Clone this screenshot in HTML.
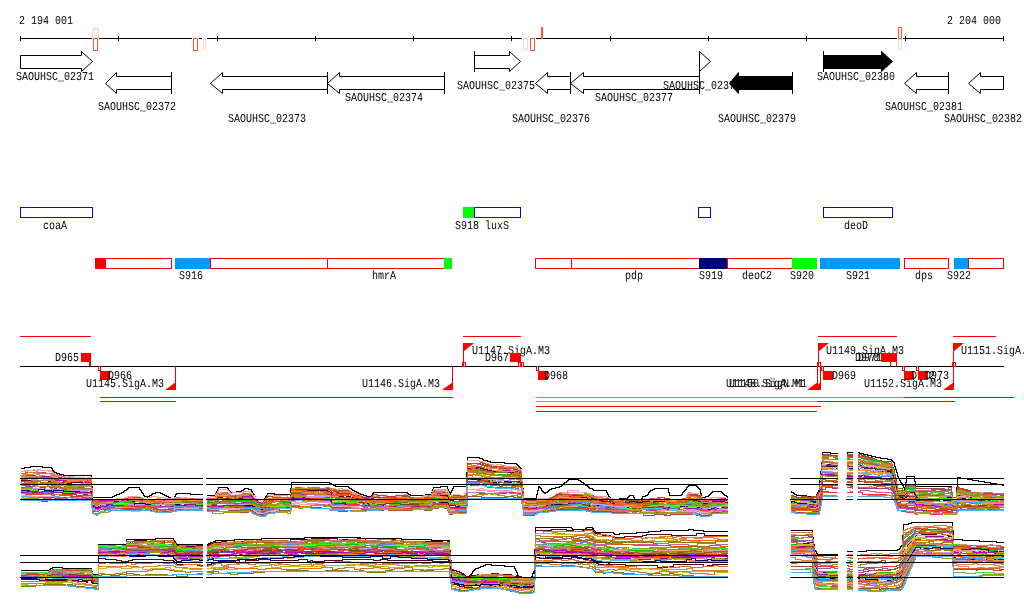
<!DOCTYPE html>
<html><head><meta charset="utf-8"><style>
html,body{margin:0;padding:0;background:#fff;}
svg{display:block;will-change:transform;}
text{font-family:"Liberation Mono",monospace;font-size:12px;text-rendering:geometricPrecision;}
</style></head><body>
<svg width="1024" height="611" viewBox="0 0 1024 611">
<rect width="1024" height="611" fill="#fff"/>
<rect x="20" y="38" width="984" height="1" fill="#000"/>
<rect x="20" y="36" width="1" height="5" fill="#000"/>
<rect x="118" y="36" width="1" height="5" fill="#000"/>
<rect x="217" y="36" width="1" height="5" fill="#000"/>
<rect x="315" y="36" width="1" height="5" fill="#000"/>
<rect x="413" y="36" width="1" height="5" fill="#000"/>
<rect x="511" y="36" width="1" height="5" fill="#000"/>
<rect x="610" y="36" width="1" height="5" fill="#000"/>
<rect x="708" y="36" width="1" height="5" fill="#000"/>
<rect x="806" y="36" width="1" height="5" fill="#000"/>
<rect x="905" y="36" width="1" height="5" fill="#000"/>
<rect x="1003" y="36" width="1" height="5" fill="#000"/>
<text x="19" y="24" textLength="54" lengthAdjust="spacingAndGlyphs" fill="#000">2 194 001</text>
<text x="947" y="24" textLength="54" lengthAdjust="spacingAndGlyphs" fill="#000">2 204 000</text>
<rect x="92" y="38" width="7" height="1" fill="#fff"/>
<rect x="93.5" y="27.5" width="4" height="2" fill="none" stroke="#ffd4c4"/>
<rect x="92.5" y="29.5" width="6" height="9" fill="none" stroke="#ffd4c4"/>
<rect x="92" y="38" width="7" height="1" fill="#fff"/>
<rect x="93.5" y="38.5" width="4" height="12" fill="none" stroke="#ff5533"/>
<rect x="192" y="38" width="7" height="1" fill="#fff"/>
<rect x="193.5" y="38.5" width="4" height="12" fill="none" stroke="#ff5533"/>
<rect x="202" y="38" width="5" height="1" fill="#fff"/>
<rect x="203.5" y="38.5" width="2" height="10" fill="none" stroke="#ffd4c4"/>
<rect x="522" y="38" width="7" height="1" fill="#fff"/>
<rect x="523.5" y="38.5" width="4" height="11" fill="none" stroke="#ffd4c4"/>
<rect x="529" y="38" width="7" height="1" fill="#fff"/>
<rect x="530.5" y="38.5" width="4" height="12" fill="none" stroke="#ff5533"/>
<rect x="541" y="27" width="2" height="12" fill="#ff5533"/>
<rect x="897" y="38" width="6" height="1" fill="#fff"/>
<rect x="898.5" y="38.5" width="3" height="11" fill="none" stroke="#ffd4c4"/>
<rect x="897" y="38" width="6" height="1" fill="#fff"/>
<rect x="898.5" y="27.5" width="3" height="11" fill="none" stroke="#ff5533"/>
<polygon points="20.5,55.5 81.5,55.5 81.5,51.5 92.5,61.5 81.5,71.5 81.5,68.5 20.5,68.5" fill="#fff" stroke="#000"/>
<text x="16" y="80" textLength="78" lengthAdjust="spacingAndGlyphs" fill="#000">SAOUHSC_02371</text>
<polygon points="171.5,76.5 116.5,76.5 116.5,72.5 105.5,83.5 116.5,93.5 116.5,89.5 171.5,89.5" fill="#fff" stroke="#000"/>
<rect x="171" y="72" width="1" height="22" fill="#000"/>
<text x="98" y="110" textLength="78" lengthAdjust="spacingAndGlyphs" fill="#000">SAOUHSC_02372</text>
<polygon points="327.5,76.5 222.5,76.5 222.5,72.5 210.5,83.5 222.5,93.5 222.5,89.5 327.5,89.5" fill="#fff" stroke="#000"/>
<rect x="327" y="72" width="1" height="22" fill="#000"/>
<text x="228" y="122" textLength="78" lengthAdjust="spacingAndGlyphs" fill="#000">SAOUHSC_02373</text>
<polygon points="444.5,76.5 339.5,76.5 339.5,72.5 327.5,83.5 339.5,93.5 339.5,89.5 444.5,89.5" fill="#fff" stroke="#000"/>
<rect x="444" y="72" width="1" height="22" fill="#000"/>
<text x="345" y="101" textLength="78" lengthAdjust="spacingAndGlyphs" fill="#000">SAOUHSC_02374</text>
<polygon points="474.5,55.5 509.5,55.5 509.5,51.5 520.5,61.5 509.5,71.5 509.5,68.5 474.5,68.5" fill="#fff" stroke="#000"/>
<rect x="474" y="51" width="1" height="21" fill="#000"/>
<text x="457" y="89" textLength="78" lengthAdjust="spacingAndGlyphs" fill="#000">SAOUHSC_02375</text>
<polygon points="570.5,76.5 547.5,76.5 547.5,72.5 535.5,83.5 547.5,93.5 547.5,89.5 570.5,89.5" fill="#fff" stroke="#000"/>
<rect x="570" y="72" width="1" height="22" fill="#000"/>
<text x="512" y="122" textLength="78" lengthAdjust="spacingAndGlyphs" fill="#000">SAOUHSC_02376</text>
<polygon points="699.5,76.5 583.5,76.5 583.5,72.5 570.5,83.5 583.5,93.5 583.5,89.5 699.5,89.5" fill="#fff" stroke="#000"/>
<rect x="699" y="72" width="1" height="22" fill="#000"/>
<text x="595" y="101" textLength="78" lengthAdjust="spacingAndGlyphs" fill="#000">SAOUHSC_02377</text>
<polygon points="699.5,51.5 710.5,61.5 699.5,71.5" fill="#fff" stroke="#000"/>
<rect x="699" y="51" width="1" height="21" fill="#000"/>
<text x="663" y="89" textLength="78" lengthAdjust="spacingAndGlyphs" fill="#000">SAOUHSC_02378</text>
<polygon points="792.5,76.5 738.5,76.5 738.5,72.5 729.5,83.5 738.5,93.5 738.5,89.5 792.5,89.5" fill="#000" stroke="#000"/>
<rect x="792" y="72" width="1" height="22" fill="#000"/>
<text x="718" y="122" textLength="78" lengthAdjust="spacingAndGlyphs" fill="#000">SAOUHSC_02379</text>
<polygon points="823.5,55.5 881.5,55.5 881.5,51.5 892.5,61.5 881.5,71.5 881.5,68.5 823.5,68.5" fill="#000" stroke="#000"/>
<rect x="823" y="51" width="1" height="21" fill="#000"/>
<text x="817" y="80" textLength="78" lengthAdjust="spacingAndGlyphs" fill="#000">SAOUHSC_02380</text>
<polygon points="948.5,76.5 916.5,76.5 916.5,72.5 904.5,83.5 916.5,93.5 916.5,89.5 948.5,89.5" fill="#fff" stroke="#000"/>
<rect x="948" y="72" width="1" height="22" fill="#000"/>
<text x="885" y="110" textLength="78" lengthAdjust="spacingAndGlyphs" fill="#000">SAOUHSC_02381</text>
<polygon points="1003.5,76.5 980.5,76.5 980.5,72.5 968.5,83.5 980.5,93.5 980.5,89.5 1003.5,89.5" fill="#fff" stroke="#000"/>
<text x="944" y="122" textLength="78" lengthAdjust="spacingAndGlyphs" fill="#000">SAOUHSC_02382</text>
<rect x="20.5" y="207.5" width="72" height="10" fill="none" stroke="#0000ff"/>
<text x="43" y="229" textLength="24" lengthAdjust="spacingAndGlyphs" fill="#000">coaA</text>
<rect x="463" y="207" width="12" height="11" fill="#00ff00"/>
<rect x="474.5" y="207.5" width="46" height="10" fill="none" stroke="#0000ff"/>
<text x="455" y="229" textLength="54" lengthAdjust="spacingAndGlyphs" fill="#000">S918 luxS</text>
<rect x="698.5" y="207.5" width="12" height="10" fill="none" stroke="#0000ff"/>
<rect x="823.5" y="207.5" width="69" height="10" fill="none" stroke="#0000ff"/>
<text x="844" y="229" textLength="24" lengthAdjust="spacingAndGlyphs" fill="#000">deoD</text>
<rect x="95" y="258" width="11" height="11" fill="#ff0000"/>
<rect x="95.5" y="258.5" width="76" height="10" fill="none" stroke="#ff0000"/>
<rect x="175" y="258" width="35" height="11" fill="#0099ff"/>
<text x="179" y="279" textLength="24" lengthAdjust="spacingAndGlyphs" fill="#000">S916</text>
<rect x="210.5" y="258.5" width="234" height="10" fill="none" stroke="#ff0000"/>
<rect x="327" y="258" width="1" height="11" fill="#ff0000"/>
<text x="372" y="279" textLength="24" lengthAdjust="spacingAndGlyphs" fill="#000">hmrA</text>
<rect x="444" y="258" width="8" height="11" fill="#00ff00"/>
<rect x="535.5" y="258.5" width="164" height="10" fill="none" stroke="#ff0000"/>
<rect x="571" y="258" width="1" height="11" fill="#ff0000"/>
<text x="625" y="279" textLength="18" lengthAdjust="spacingAndGlyphs" fill="#000">pdp</text>
<rect x="699" y="258" width="28" height="11" fill="#000080"/>
<text x="699" y="279" textLength="24" lengthAdjust="spacingAndGlyphs" fill="#000">S919</text>
<rect x="727.5" y="258.5" width="65" height="10" fill="none" stroke="#ff0000"/>
<text x="742" y="279" textLength="30" lengthAdjust="spacingAndGlyphs" fill="#000">deoC2</text>
<rect x="792" y="258" width="25" height="11" fill="#00ff00"/>
<text x="790" y="279" textLength="24" lengthAdjust="spacingAndGlyphs" fill="#000">S920</text>
<rect x="820" y="258" width="80" height="11" fill="#0099ff"/>
<text x="846" y="279" textLength="24" lengthAdjust="spacingAndGlyphs" fill="#000">S921</text>
<rect x="904.5" y="258.5" width="44" height="10" fill="none" stroke="#ff0000"/>
<text x="915" y="279" textLength="18" lengthAdjust="spacingAndGlyphs" fill="#000">dps</text>
<rect x="954" y="258" width="14" height="11" fill="#0099ff"/>
<text x="947" y="279" textLength="24" lengthAdjust="spacingAndGlyphs" fill="#000">S922</text>
<rect x="968.5" y="258.5" width="35" height="10" fill="none" stroke="#ff0000"/>
<rect x="20" y="366" width="984" height="1" fill="#000"/>
<rect x="20" y="336" width="71" height="1" fill="#ff0000"/>
<rect x="463" y="336" width="58" height="1" fill="#ff0000"/>
<rect x="818" y="336" width="79" height="1" fill="#ff0000"/>
<rect x="953" y="336" width="43" height="1" fill="#ff0000"/>
<rect x="100" y="397" width="353" height="1" fill="#ff0000"/>
<rect x="100" y="401" width="76" height="1" fill="#ff0000"/>
<rect x="536" y="397" width="369" height="1" fill="#00ff00"/>
<rect x="904" y="397" width="110" height="1" fill="#ff0000"/>
<rect x="536" y="401" width="282" height="1" fill="#00ff00"/>
<rect x="817" y="401" width="138" height="1" fill="#ff0000"/>
<rect x="536" y="406" width="285" height="1" fill="#ff0000"/>
<rect x="536" y="411" width="281" height="1" fill="#ff0000"/>
<rect x="81" y="353" width="10" height="9" fill="#ff0000"/>
<rect x="89" y="361" width="2" height="5" fill="#ff0000"/>
<text x="55" y="361" textLength="24" lengthAdjust="spacingAndGlyphs" fill="#000">D965</text>
<rect x="98.5" y="366.5" width="2" height="4" fill="none" stroke="#ff0000"/>
<rect x="100" y="371" width="10" height="9" fill="#ff0000"/>
<text x="108" y="379" textLength="24" lengthAdjust="spacingAndGlyphs" fill="#000">D966</text>
<rect x="175" y="366" width="1" height="24" fill="#ff0000"/>
<polygon points="176,382 176,390 165,390" fill="#ff0000"/>
<text x="86" y="387" textLength="78" lengthAdjust="spacingAndGlyphs" fill="#000">U1145.SigA.M3</text>
<rect x="452" y="366" width="1" height="24" fill="#ff0000"/>
<polygon points="453,382 453,390 442,390" fill="#ff0000"/>
<text x="362" y="387" textLength="78" lengthAdjust="spacingAndGlyphs" fill="#000">U1146.SigA.M3</text>
<rect x="463" y="343" width="1" height="24" fill="#ff0000"/>
<rect x="462.5" y="362.5" width="3" height="4" fill="none" stroke="#ff0000"/>
<polygon points="463,343 474,343 463,352" fill="#ff0000"/>
<text x="472" y="354" textLength="78" lengthAdjust="spacingAndGlyphs" fill="#000">U1147.SigA.M3</text>
<rect x="510" y="353" width="11" height="9" fill="#ff0000"/>
<text x="485" y="361" textLength="24" lengthAdjust="spacingAndGlyphs" fill="#000">D967</text>
<rect x="518.5" y="362.5" width="3" height="4" fill="none" stroke="#ff0000"/>
<rect x="520.5" y="362.5" width="3" height="4" fill="none" stroke="#ff0000"/>
<rect x="536.5" y="366.5" width="2" height="4" fill="none" stroke="#ff0000"/>
<rect x="538" y="371" width="10" height="9" fill="#ff0000"/>
<text x="544" y="379" textLength="24" lengthAdjust="spacingAndGlyphs" fill="#000">D968</text>
<text x="726" y="387" textLength="78" lengthAdjust="spacingAndGlyphs" fill="#000">U1148.SigA.M1</text>
<text x="729" y="387" textLength="78" lengthAdjust="spacingAndGlyphs" fill="#000">U1150.SigN.M1</text>
<rect x="817" y="366" width="1" height="24" fill="#ff0000"/>
<polygon points="818,382 818,390 807,390" fill="#ff0000"/>
<rect x="820" y="366" width="1" height="24" fill="#ff0000"/>
<polygon points="821,382 821,390 810,390" fill="#ff0000"/>
<rect x="818" y="343" width="1" height="24" fill="#ff0000"/>
<rect x="817.5" y="362.5" width="3" height="4" fill="none" stroke="#ff0000"/>
<polygon points="818,343 829,343 818,352" fill="#ff0000"/>
<text x="826" y="354" textLength="78" lengthAdjust="spacingAndGlyphs" fill="#000">U1149.SigA.M3</text>
<rect x="821.5" y="366.5" width="2" height="4" fill="none" stroke="#ff0000"/>
<rect x="823" y="371" width="10" height="9" fill="#ff0000"/>
<text x="832" y="379" textLength="24" lengthAdjust="spacingAndGlyphs" fill="#000">D969</text>
<text x="855" y="361" textLength="24" lengthAdjust="spacingAndGlyphs" fill="#000">D970</text>
<text x="858" y="361" textLength="24" lengthAdjust="spacingAndGlyphs" fill="#000">D971</text>
<rect x="881" y="353" width="16" height="9" fill="#ff0000"/>
<rect x="890" y="361" width="1" height="6" fill="#ff0000"/>
<rect x="896" y="361" width="1" height="6" fill="#ff0000"/>
<rect x="902.5" y="366.5" width="2" height="4" fill="none" stroke="#ff0000"/>
<rect x="904" y="371" width="10" height="9" fill="#ff0000"/>
<text x="911" y="379" textLength="24" lengthAdjust="spacingAndGlyphs" fill="#000">D972</text>
<rect x="916.5" y="366.5" width="2" height="4" fill="none" stroke="#ff0000"/>
<rect x="918" y="371" width="10" height="9" fill="#ff0000"/>
<text x="925" y="379" textLength="24" lengthAdjust="spacingAndGlyphs" fill="#000">D973</text>
<text x="864" y="387" textLength="78" lengthAdjust="spacingAndGlyphs" fill="#000">U1152.SigA.M3</text>
<rect x="953" y="366" width="1" height="24" fill="#ff0000"/>
<polygon points="954,382 954,390 943,390" fill="#ff0000"/>
<rect x="953" y="343" width="1" height="24" fill="#ff0000"/>
<rect x="952.5" y="362.5" width="3" height="4" fill="none" stroke="#ff0000"/>
<polygon points="953,343 964,343 953,352" fill="#ff0000"/>
<text x="961" y="354" textLength="78" lengthAdjust="spacingAndGlyphs" fill="#000">U1151.SigA.M3</text>
<g transform="translate(0.5,0.5)" fill="none" stroke-width="1" shape-rendering="crispEdges">
<path d="M20 468h4v-1h6v-1h12v1h9v1h1v2h1v1h1v1h2v1h3v1h4v1h28v11h1v11h20v-1h2v-1h2v-1h3v-1h2v-1h2v-1h1v-1h2v-1h1v-1h1v-1h11v2h1v1h1v2h1v1h1v2h1v1h3v1h1v-1h1v-1h2v-1h1v-1h3v-1h5v1h2v1h2v1h2v1h2v1h2v1h2v1h1v-1h1v-2h1v-2h1v-1h14v1h12" stroke="#000"/>
<path d="M206 495h9v-2h1v-2h1v-2h1v-2h9v1h1v2h1v1h1v1h6v-1h5v-1h2v-1h1v-1h4v1h3v2h1v2h1v1h1v2h1v2h1v2h8v-2h1v-2h1v-1h1v-2h7v1h16v-6h1v-6h38v1h2v1h2v1h2v1h13v1h1v1h2v1h1v1h2v1h2v1h2v1h2v1h3v1h3v1h5v-1h1v-2h1v-1h34v1h1v1h2v1h15v-1h6v-2h1v-3h1v-2h7v-1h7v3h1v2h1v3h1v-2h1v-2h1v-2h1v-2h13v-14h1v-15h12v1h3v1h1v1h4v1h3v1h14v1h12v1h1v1h1v1h1v1h1v1h1v10h1v10h1v10h13v-4h1v-4h1v-4h1v1h1v1h1v2h1v1h1v1h1v1h1v-1h2v-1h1v-1h1v-1h2v-1h4v-1h4v-1h2v-1h1v-1h1v-1h1v-1h2v-1h1v-1h1v-1h10v1h2v1h1v1h2v1h1v1h1v1h2v1h1v1h1v1h3v1h1v1h13v2h1v2h1v2h1v1h1v1h2v1h7v-1h8v-1h1v-1h1v-1h4v2h1v2h7v-1h1v-2h3v-1h2v-1h1v-2h1v-1h1v-1h2v-1h2v-1h14v4h1v3h12v-1h1v-2h1v-1h1v-1h1v-1h1v-2h1v-1h1v-1h8v1h1v1h1v1h1v1h1v4h1v5h1v-1h3v-1h3v-1h1v-1h1v-1h1v-1h1v-1h9v1h1v1h1v1h1v1h2v1h1v1" stroke="#000"/>
<path d="M20 471h5v-1h8v-1h1v1h3v-1h3v1h11v1h1v1h1v1h1v1h3v1h3v1h2v1h6v-1h5v1h11v1h7v11h1v11h1v-1h1v1h4v-1h18v-1h1v1h1v-1h6v-1h3v-1h12v1h3v1h1v1h5v-2h3v-1h6v1h8v1h9v-1h1v1h7v-1h5v1h15" stroke="#f0a0a0"/>
<path d="M206 497h4v-1h5v-2h1v-1h1v-2h1v-2h9v1h1v1h1v1h1v1h2v-1h11v-1h7v1h1v1h1v2h2v1h1v2h1v1h2v1h6v-1h1v-1h1v-1h1v-2h2v1h1v-2h3v1h14v2h3v-5h1v-4h4v-1h9v1h31v1h3v-1h4v1h6v1h2v1h1v1h1v1h1v-1h1v1h3v1h2v1h2v1h4v1h1v1h5v-1h1v-2h1v-1h3v1h7v1h16v-1h5v-1h3v1h2v1h1v1h13v-2h8v-2h1v-2h1v-2h14v2h1v2h1v3h2v-1h2v-1h3v1h8v-2h2v-16h1v-17h12v1h3v1h2v1h4v1h5v1h3v-1h5v1h4v1h9v1h3v1h1v1h2v1h1v10h1v10h1v10h15v-1h1v-1h9v-1h4v-1h2v-1h1v-1h2v-1h2v-1h8v-2h11v2h8v1h3v1h2v1h1v1h2v1h2v1h5v1h4v1h2v1h4v1h4v-2h13v-1h5v1h16v-1h1v1h4v-1h15v1h6v-1h7v-1h3v-1h1v-2h1v-2h1v-1h3v1h6v1h2v1h1v2h1v2h8v-1h2v-1h14v2h2" stroke="#f0a0a0"/>
<path d="M20 471h4v-1h2v1h1v-1h11v-1h2v1h8v1h3v2h1v1h2v1h2v1h6v1h11v1h14v-1h4v11h1v11h1v1h6v-1h24v-1h3v-1h7v-1h6v1h2v1h1v1h1v1h8v-1h5v1h9v1h7v1h1v-1h3v-1h15v-1h11" stroke="#ffa0b0"/>
<path d="M206 498h9v-1h1v-2h1v-1h1v-2h9v1h1v1h2v1h5v-1h1v1h2v-1h4v-1h9v2h1v1h1v2h1v1h1v2h1v1h8v-1h1v-2h1v-2h1v-1h13v1h10v-5h1v-4h19v1h19v-1h2v1h6v1h9v-1h1v1h2v1h1v1h2v1h2v1h3v1h2v1h3v1h6v1h3v-1h1v-2h1v-1h4v1h7v1h19v-1h3v1h2v1h2v1h5v-1h6v-1h10v-2h1v-2h1v-2h14v2h1v2h1v2h2v-1h2v-1h5v1h4v1h4v-16h1v-16h3v-1h9v1h3v1h3v1h4v1h6v1h2v-1h4v1h7v-1h7v-1h1v1h2v1h1v1h2v10h1v10h1v10h15v-1h5v1h3v-1h3v-1h1v1h2v-1h2v-1h2v-1h1v-1h3v-1h8v-1h18v1h4v1h2v1h1v1h13v1h3v1h3v1h3v1h12v-1h7v1h2v1h5v-1h1v-1h4v1h2v-1h20v-1h1v1h13v-1h3v-1h1v-2h1v-1h1v-1h9v1h3v2h1v2h4v2h5v-1h7v-1h6v1h3v1h1" stroke="#ffa0b0"/>
<path d="M20 473h5v-1h20v1h6v1h1v1h2v1h3v1h4v1h3v1h1v1h5v-1h11v1h6v-1h4v11h1v9h1v1h6v-1h8v1h4v-1h5v1h2v-1h7v-1h10v-1h5v1h2v1h3v1h6v-1h13v1h1v1h9v-1h2v-2h17v2h7v-1h2" stroke="#d04020"/>
<path d="M206 498h9v-2h1v-1h1v-2h10v1h1v1h1v1h9v-1h5v-1h5v1h3v1h1v1h1v2h1v1h1v1h1v1h7v-1h1v-1h1v-1h1v-2h1v-1h5v1h18v-5h1v-4h4v-1h5v1h7v-1h11v1h6v1h7v1h2v1h7v1h2v-2h6v1h1v1h2v1h1v1h3v1h4v1h3v1h9v-1h1v-1h1v-1h4v1h9v1h9v-1h12v1h1v2h2v1h16v-2h5v-2h1v-2h1v-2h10v1h4v2h1v1h1v2h2v-1h2v-1h7v1h6v-17h1v-16h13v-1h2v1h3v1h3v1h1v1h14v1h4v1h9v1h2v1h1v2h1v1h1v9h1v10h1v10h7v-1h8v-1h1v-1h10v-1h3v-1h2v-1h1v-1h1v-1h2v-1h3v1h24v1h3v1h2v1h2v1h3v1h14v1h16v1h3v-1h2v1h4v1h7v-1h6v-1h3v-2h7v-1h7v1h5v1h13v-1h2v1h1v-1h1v-1h1v-2h1v-1h9v1h2v1h1v2h1v1h7v1h2v-1h11v-1h4v1h2" stroke="#d04020"/>
<path d="M20 473h7v-1h9v-1h1v1h4v1h10v1h2v1h1v-1h3v1h4v1h3v1h6v1h20v2h1v10h1v11h3v1h3v-1h3v-1h10v-1h4v1h6v-1h3v-1h4v-1h11v1h2v1h2v1h9v-1h11v1h9v-1h2v-1h2v-1h4v2h8v1h12v-1h2" stroke="#d060a0"/>
<path d="M206 498h5v1h4v-1h1v-1h1v-2h1v-1h4v-2h5v1h1v1h1v1h12v-1h2v-1h7v2h1v2h1v1h1v1h1v2h1v1h1v1h8v-1h1v-1h1v-2h1v-1h15v-1h4v1h4v-4h1v-5h2v-1h20v-1h6v1h10v1h2v1h5v1h5v1h7v1h1v1h2v1h1v1h3v1h2v-1h1v1h2v1h5v1h6v-1h1v-1h1v-1h6v2h12v-1h15v1h2v-1h1v1h16v-1h6v-2h1v-1h1v-2h9v1h5v2h1v2h1v1h3v-1h14v-17h1v-16h4v1h6v-1h4v1h3v1h2v-1h2v1h4v1h9v1h4v-1h5v1h7v1h1v1h1v1h2v10h1v10h1v10h2v-1h5v1h7v-1h9v-1h4v-1h3v-1h2v-1h2v-1h4v-1h27v1h2v1h2v-1h1v1h3v1h6v1h6v1h4v1h17v-1h5v1h8v-1h7v-1h11v1h5v1h4v1h15v-1h1v-1h1v-1h1v-1h1v-1h11v1h1v2h1v1h11v-1h6v1h9v1" stroke="#d060a0"/>
<path d="M20 475h3v-1h3v-2h10v1h15v1h1v1h2v1h3v2h4v1h30v10h1v11h3v1h1v-1h1v-1h17v1h9v-1h4v-1h7v1h6v1h2v1h4v-1h6v-1h9v1h9v1h3v-1h2v-1h3v1h15v-1h9v1" stroke="#a0a000"/>
<path d="M206 500h8v-1h1v-2h1v-1h1v-1h1v-2h9v1h1v2h2v1h5v-1h4v-1h4v-1h8v1h1v2h1v1h1v1h1v1h1v1h2v1h3v1h3v-1h1v-2h1v-1h9v-1h9v1h6v-6h1v-5h16v-1h4v1h6v1h8v-2h4v1h2v1h4v1h3v1h3v1h2v-1h5v1h1v1h2v1h2v1h3v1h3v1h3v1h4v1h5v-1h2v-1h7v1h17v-1h10v1h1v-1h2v1h17v-2h1v-1h3v-1h1v-2h1v-2h2v1h10v1h2v2h1v1h1v2h3v-1h14v-16h1v-17h13v1h1v1h3v1h4v1h1v-1h1v1h26v1h1v1h1v1h2v1h1v10h1v11h1v10h6v1h8v-1h4v-2h5v-1h4v-1h2v-1h2v-1h2v-1h3v-1h6v1h10v-1h9v-1h2v1h3v1h2v1h2v1h3v2h7v-1h4v1h4v1h58v1h7v-1h7v-1h2v-1h1v-1h1v-1h8v-1h1v1h2v1h1v1h1v2h1v1h9v-1h14v1h3" stroke="#a0a000"/>
<path d="M20 476h4v-1h7v1h2v-1h1v1h12v1h5v1h2v1h1v1h4v-1h1v1h5v1h1v-1h9v1h8v-1h9v11h1v9h2v1h5v-1h4v1h9v-1h11v-1h3v-1h6v-1h7v1h2v1h2v1h9v-1h10v1h8v1h5v-1h4v-1h7v1h5v1h11v-1" stroke="#a05030"/>
<path d="M206 499h9v-1h1v-1h1v-2h1v-1h9v1h2v1h1v1h3v-1h14v-1h2v1h2v1h1v1h1v2h1v1h1v1h1v2h4v-1h4v-1h1v-1h1v-1h1v-1h22v1h1v-5h1v-4h8v-1h4v1h15v-2h9v-1h2v1h2v1h5v1h3v-1h8v1h1v1h2v1h2v1h3v1h3v1h1v1h2v1h5v1h6v-1h1v-1h29v-1h3v-1h1v1h3v1h11v1h4v-1h8v-2h1v-2h14v2h1v2h1v2h1v-1h3v-1h7v-1h4v-1h2v-16h1v-16h13v1h3v1h3v1h1v-1h4v2h5v1h17v1h4v1h1v1h2v1h1v10h1v9h1v10h6v-1h8v-1h4v1h4v-1h4v-1h2v-1h2v-1h3v-1h2v-1h20v1h8v1h3v1h2v1h2v1h4v1h1v-1h7v-1h3v1h3v1h27v1h3v-1h1v2h6v-2h15v1h22v-1h1v-1h1v-1h1v-1h2v-2h6v1h2v1h2v2h1v2h8v-1h1v-1h7v2h7v1h3" stroke="#a05030"/>
<path d="M20 476h4v-2h9v-1h3v1h3v1h5v1h6v-2h1v1h1v1h2v1h3v1h3v1h7v1h19v1h5v10h1v10h2v1h5v-1h15v-1h7v-1h1v1h1v-1h5v-1h11v1h1v1h2v1h6v-1h2v-1h6v-1h4v1h5v1h8v-1h3v-1h13v1h13" stroke="#ff8060"/>
<path d="M206 499h9v-2h1v-2h1v-1h1v-1h2v2h8v1h1v1h11v-1h2v-1h9v1h1v1h1v2h1v1h1v1h1v1h8v-1h1v-1h1v-1h1v-1h17v1h6v-4h1v-5h8v-1h31v1h1v2h10v1h3v1h3v-2h1v1h2v1h1v1h3v1h3v1h5v1h8v1h1v-1h1v-1h9v1h16v-1h10v1h2v1h1v1h4v-3h8v1h9v-2h1v-2h1v-1h3v1h5v-1h6v2h1v2h1v2h2v-1h15v-16h1v-16h14v1h3v1h2v-1h3v1h9v1h12v1h3v1h4v1h1v1h1v-1h2v10h1v10h1v9h14v-1h11v-1h4v-1h2v-1h3v-1h2v-1h27v1h2v1h2v1h2v1h2v1h13v1h4v1h3v-2h5v1h4v1h4v-1h7v1h6v1h1v-1h5v-1h3v-1h8v1h9v-2h3v1h1v-1h5v1h6v-1h4v-1h1v-1h1v-1h1v-1h1v1h5v1h2v1h2v1h2v1h1v2h11v-1h15" stroke="#ff8060"/>
<path d="M20 477h11v-1h6v1h5v-1h4v1h4v-1h1v1h2v1h1v1h5v1h4v1h15v1h11v-2h2v10h1v10h2v2h5v-1h7v-1h9v-1h8v1h4v-1h12v-1h2v1h2v1h9v1h19v1h3v-1h2v-1h18v1h8" stroke="#e08040"/>
<path d="M206 501h6v-1h3v-1h1v-1h1v-1h1v-1h4v-2h5v1h2v1h1v1h6v-1h7v-1h3v1h3v1h1v1h1v1h1v1h1v1h1v1h1v1h1v1h5v-1h3v-1h2v-1h1v-1h8v-1h8v-1h7v-4h1v-5h7v1h31v1h1v1h1v1h5v-1h7v-1h5v1h2v1h2v1h2v1h2v1h4v2h3v1h5v-1h1v1h2v-1h1v-1h1v-1h5v2h6v1h4v2h2v-1h2v-1h12v-1h2v1h3v1h16v-1h6v-2h1v-1h1v-2h14v2h1v2h1v1h3v-1h4v1h10v-16h1v-16h5v-1h9v1h3v1h5v1h2v1h3v1h14v-1h9v1h1v1h2v1h1v9h1v10h1v10h13v-1h9v-1h4v-1h4v-1h2v-1h4v-1h5v-1h15v1h7v1h3v1h2v1h2v1h2v1h5v-1h7v1h4v1h16v-1h7v1h8v-1h13v-1h11v-1h2v1h2v2h6v-2h9v-1h1v-1h1v-1h1v-1h8v1h2v1h2v1h1v2h8v1h1v-1h11v1h6" stroke="#e08040"/>
<path d="M20 478h4v-1h4v-1h4v-1h3v1h14v2h3v1h6v1h5v1h2v1h26v9h1v10h2v1h2v-1h3v-1h15v-1h7v2h1v-1h6v-1h1v1h5v-1h6v1h2v1h1v1h6v-1h4v-1h11v1h5v1h4v-1h3v-1h18v1h8" stroke="#c000c0"/>
<path d="M206 500h9v-1h1v-1h1v-1h1v-1h9v1h2v1h6v-1h7v-1h7v-1h2v1h1v1h1v1h1v1h1v1h1v2h6v1h2v-1h1v-1h2v-1h18v-1h5v-5h1v-4h4v-1h34v1h1v1h1v1h1v1h5v-1h1v1h11v1h2v1h3v1h3v1h5v1h6v1h3v-1h2v-1h7v1h1v1h15v-1h12v1h10v1h3v-1h1v1h5v-1h4v-1h1v-1h1v-2h14v2h1v2h1v1h4v-1h7v2h6v-17h1v-16h13v1h1v-1h1v1h3v1h2v1h10v-1h13v1h7v1h1v1h1v-1h1v1h1v10h1v9h1v10h11v1h2v-1h10v-1h4v-1h3v-1h3v-1h4v-1h7v-1h3v-1h12v1h4v1h3v1h2v1h2v1h1v-1h10v1h3v1h5v1h30v-1h6v1h21v2h15v-1h2v-1h1v-3h1v-1h8v1h4v1h1v1h11v-1h14v1h1" stroke="#c000c0"/>
<path d="M20 477h5v-1h3v1h1v-1h11v1h12v1h1v2h1v1h5v1h2v1h9v1h8v1h13v9h1v10h2v-1h5v-1h17v-1h9v-1h6v-1h5v1h3v1h13v-1h8v1h14v-1h14v1h7v-1h7" stroke="#d0a060"/>
<path d="M206 500h3v-1h7v-1h1v-1h1v-2h9v1h2v1h5v1h2v-1h15v1h1v1h1v1h1v1h1v1h1v1h8v-1h1v-1h1v-1h1v-1h4v1h5v-1h14v-5h1v-4h13v2h9v-1h4v-1h12v1h1v2h1v1h3v-1h1v1h11v1h2v1h2v2h1v1h3v1h3v-1h2v1h5v1h8v-1h1v-1h4v-1h5v1h14v-1h12v1h6v1h9v-1h5v2h1v-1h2v-1h1v-2h1v-2h14v2h1v1h1v2h3v-1h11v1h3v-16h1v-16h6v-1h6v1h3v1h3v1h7v1h3v-1h7v1h12v1h4v1h2v1h1v9h1v10h1v9h13v-1h9v-1h7v-1h3v-1h3v-1h14v-1h6v1h10v1h2v1h1v1h2v1h9v1h3v-1h3v1h2v1h10v1h7v-1h7v1h7v-1h5v-1h11v-1h18v1h9v-1h2v-1h1v-1h1v-1h10v1h2v1h1v2h8v-1h18" stroke="#d0a060"/>
<path d="M20 479h7v-1h4v-1h6v1h6v1h9v2h2v1h5v1h2v-1h23v-1h4v-1h3v10h1v9h1v1h3v1h1v1h3v-1h24v-1h7v1h5v-1h3v1h4v2h5v-1h4v-1h23v-1h1v-1h6v1h20" stroke="#ff6000"/>
<path d="M206 499h10v-1h1v-1h1v-1h10v1h1v1h15v-1h7v1h1v1h1v1h1v1h1v1h1v1h3v1h2v-2h1v1h2v-1h1v-1h1v-1h1v-1h2v1h14v-2h7v-4h1v-5h1v1h28v1h9v1h1v1h3v1h13v1h1v-1h3v1h3v1h4v1h4v1h2v2h5v1h3v-1h2v-1h17v-1h16v1h11v-1h15v-2h1v-1h4v-1h4v1h6v1h1v2h1v2h2v-1h11v-1h4v-16h1v-16h6v1h8v1h3v1h1v1h4v1h7v1h20v1h1v-1h1v1h2v1h1v10h1v9h1v9h3v1h10v-1h1v-1h9v-1h4v-1h3v-1h3v-2h2v-1h4v1h6v-1h3v1h15v1h4v1h2v1h1v-1h1v1h7v1h4v1h1v-1h1v1h4v1h2v-1h7v1h12v1h1v1h5v-1h10v-1h16v-1h4v1h13v-1h4v-1h2v-1h1v-1h5v2h5v1h2v1h1v1h9v-1h17" stroke="#ff6000"/>
<path d="M20 479h2v-1h4v-1h25v3h2v1h4v1h2v1h8v1h18v-1h6v9h1v9h2v1h2v1h1v-1h2v-1h7v1h18v-1h8v-1h7v1h4v1h1v-1h6v-1h9v1h8v1h1v-1h6v-1h2v2h26" stroke="#c06000"/>
<path d="M206 501h2v1h7v-1h1v-1h1v-1h1v-1h8v-2h1v1h3v1h8v-1h13v1h1v1h1v2h2v1h1v1h5v1h3v-1h1v-1h2v-1h4v-1h5v1h7v-1h6v1h1v-4h1v-5h8v-1h16v1h14v1h1v1h1v1h17v1h2v1h4v1h5v1h3v1h7v1h2v-1h6v1h12v-1h11v-1h7v2h2v1h6v-2h16v-2h1v-1h1v-2h9v1h5v1h1v2h1v2h1v-1h3v-1h10v1h3v-16h1v-16h7v1h7v1h1v-2h1v1h3v2h4v1h20v1h3v-1h3v1h1v1h2v1h2v10h1v9h1v10h7v-1h6v-1h11v-1h5v-1h1v1h1v-1h3v-1h4v-1h9v-1h18v1h2v1h2v1h5v1h6v1h4v-1h4v1h16v1h1v-1h5v2h8v-2h28v1h12v-1h4v-1h1v-1h2v-1h9v1h3v2h1v1h8v-1h18" stroke="#c06000"/>
<path d="M20 480h28v1h5v1h4v1h2v-1h4v1h8v-1h11v1h9v10h1v9h2v1h5v-1h9v1h6v-2h13v-1h5v1h10v1h10v-1h11v1h1v1h10v-1h3v-1h24v-1h1" stroke="#600020"/>
<path d="M206 500h9v-1h2v-1h1v-1h4v1h6v1h11v-1h10v1h3v1h1v1h1v1h1v1h2v1h5v1h2v-1h1v-1h1v-1h5v-1h17v-2h2v-4h1v-4h16v-1h20v1h2v1h1v1h1v3h3v1h1v-1h8v1h3v-1h4v1h2v1h5v1h3v1h5v1h7v-1h8v-1h29v1h6v1h6v-1h3v-1h6v2h1v-2h1v-1h1v-2h7v-1h7v2h1v2h1v1h4v-1h6v1h7v-16h1v-16h3v2h6v-3h4v1h3v1h4v1h4v1h4v1h18v1h3v1h2v1h2v1h1v9h1v10h1v10h8v-1h6v-1h9v-1h1v1h2v-1h4v-1h3v-1h8v-1h7v-1h10v-1h5v1h4v1h1v-1h2v1h6v1h3v1h8v2h4v1h11v-2h4v-1h8v1h5v-1h7v1h4v-1h11v1h5v1h3v1h5v-1h8v-1h1v-1h2v-1h8v1h3v1h1v1h1v1h2v-1h9v-2h12v1h3" stroke="#600020"/>
<path d="M20 482h1v-1h10v-2h6v1h7v-1h6v1h2v2h3v1h3v1h6v1h5v-1h12v-1h9v1h1v9h1v9h3v1h3v-1h23v-1h6v1h8v-1h4v1h2v-1h2v1h12v-2h7v1h13v-1h2v1h4v-2h6v1h15" stroke="#ff9040"/>
<path d="M206 500h10v-1h2v-1h4v1h7v1h1v-1h5v2h4v-1h2v-1h10v1h1v1h2v1h1v1h1v1h7v1h1v-1h1v-1h1v-1h1v-1h7v-1h11v1h5v-5h1v-5h10v1h28v1h1v2h1v1h7v1h12v1h4v1h4v1h5v1h1v1h4v1h3v-1h2v-1h29v-2h6v1h23v-1h1v-2h1v-1h9v1h5v2h1v3h1v1h8v-1h8v-2h1v-15h1v-16h2v2h12v1h3v1h5v1h2v1h7v-1h18v1h2v1h2v1h1v9h1v9h1v10h8v-1h7v-1h10v-1h2v-1h4v-1h3v-1h1v1h7v-1h4v-1h17v1h2v-1h2v1h3v2h1v1h14v1h3v1h17v-1h1v2h12v-1h8v-1h10v-1h7v1h20v-1h1v-1h6v1h5v1h3v1h11v-1h3v1h10v-1h2" stroke="#ff9040"/>
<path d="M20 481h11v-1h20v1h2v1h8v1h5v1h25v10h1v9h2v1h2v1h1v-1h2v-1h18v-1h2v-1h10v-1h10v1h2v1h2v-1h10v1h8v1h9v1h4v-1h5v-1h21v2h2" stroke="#c08060"/>
<path d="M206 503h10v-1h2v-1h4v-1h6v1h11v-1h4v-2h8v1h1v1h2v1h1v1h1v1h3v1h6v-1h1v-1h2v-1h12v-1h10v-4h1v-4h9v1h22v1h7v1h1v1h1v2h1v-1h3v1h3v-1h4v1h7v-1h2v1h4v1h5v1h12v-1h1v1h9v1h9v-1h7v1h4v-1h4v1h1v-1h22v1h2v-2h1v-1h1v-1h14v2h1v1h1v2h3v-1h10v-1h4v-15h1v-16h12v1h3v1h3v1h5v1h4v1h9v1h9v-2h4v1h2v1h2v1h1v9h1v9h1v11h14v-1h10v-1h5v-1h2v-1h4v-1h1v1h5v-1h4v1h9v-1h7v1h4v-1h1v1h3v1h2v-1h5v1h7v1h5v1h5v-1h18v1h9v-1h4v-1h5v1h11v1h17v1h2v-1h4v-1h2v-1h11v1h1v1h1v1h7v1h1v-1h3v-1h5v-1h4v1h6" stroke="#c08060"/>
<path d="M20 481h4v1h6v-1h10v1h13v1h3v1h5v1h25v1h5v9h1v8h1v1h2v1h2v-1h3v-1h9v1h9v-1h8v-1h4v1h44v-1h2v-1h26" stroke="#808000"/>
<path d="M206 501h2v-1h8v-1h2v-1h6v1h3v1h4v1h14v-1h6v1h2v1h1v1h2v1h1v1h4v-2h3v-1h2v-1h2v-1h1v1h21v-4h1v-5h11v-1h11v2h16v1h1v1h1v2h19v1h5v1h7v1h7v1h1v1h1v-1h11v-2h4v1h4v1h18v-2h2v1h16v1h5v-2h1v-1h1v-1h1v1h13v1h1v2h1v1h4v-1h7v-1h6v-16h1v-15h4v1h9v-1h2v1h3v1h7v1h15v2h10v1h2v1h2v10h1v9h1v9h2v-1h26v-1h3v-1h4v-1h4v-1h7v1h19v-1h1v1h3v1h1v1h8v1h8v1h18v-1h20v1h2v-1h9v1h24v-2h4v-1h2v-1h4v1h5v1h3v1h1v1h7v-1h3v-1h1v1h15v1" stroke="#808000"/>
<path d="M20 483h5v-1h12v1h8v-1h1v1h7v1h9v1h2v1h27v8h1v8h1v1h2v1h3v-1h2v-1h1v1h12v-1h5v1h7v-1h1v1h14v-1h2v1h8v-2h11v1h9v1h5v-1h25v1h2" stroke="#e06030"/>
<path d="M206 503h2v-1h6v-1h2v-1h2v-1h5v2h4v1h4v1h10v-2h11v1h1v1h2v1h2v1h3v1h4v-1h1v-1h1v-1h3v-1h5v-1h5v1h6v-1h4v1h1v-5h1v-4h5v1h9v-1h19v-1h4v1h1v1h1v1h1v2h5v1h9v1h7v1h3v-1h1v1h5v1h8v1h2v-1h5v-1h2v1h2v-1h21v1h5v1h17v1h5v-1h3v-1h1v-1h1v-1h1v-1h10v1h3v1h1v2h1v2h1v-1h3v-1h7v-1h6v-15h1v-16h5v1h9v1h3v1h8v1h13v1h11v1h2v1h2v1h1v9h1v9h1v9h7v1h6v-1h2v-2h8v-1h6v-1h3v1h2v-1h9v-1h5v1h12v-1h3v1h5v1h4v1h3v-1h5v1h1v1h7v1h1v-1h14v1h3v-1h4v1h8v-1h26v-2h1v1h7v1h10v-1h2v-1h6v1h5v1h2v1h1v1h1v-1h7v-1h2v-2h13v1h3" stroke="#e06030"/>
<path d="M20 485h5v-1h5v-1h8v1h15v1h6v1h1v-1h6v1h11v1h7v-1h7v9h1v8h2v1h2v1h1v-1h3v-1h19v-1h4v1h6v1h5v-1h6v1h12v-1h9v1h11v-2h3v-1h6v1h7v1h4v-1h10" stroke="#50d050"/>
<path d="M206 502h8v1h2v-1h3v1h10v-1h6v1h7v-1h9v1h2v1h1v1h2v1h4v1h2v1h2v-1h2v-1h1v-1h6v-1h11v-1h6v-5h1v-4h25v-1h7v1h6v2h1v2h1v1h15v1h2v-1h1v1h5v1h5v1h9v1h3v-1h11v1h18v-2h8v1h22v-1h1v-1h1v-1h1v-1h4v-1h9v1h1v1h1v2h1v1h15v-1h2v-15h1v-15h5v1h6v-1h2v1h4v1h7v1h5v1h16v1h5v1h2v1h2v9h1v9h1v10h9v1h4v-1h7v-1h2v-1h6v-1h2v-1h4v-1h4v1h1v-1h6v-1h17v1h2v1h3v1h3v1h8v1h3v-1h3v1h3v1h9v-1h9v1h11v-1h14v-1h6v1h6v-1h4v1h8v-1h8v-1h2v-1h11v1h2v1h1v1h1v1h8v-2h11v-1h4v1h2" stroke="#50d050"/>
<path d="M20 483h13v-1h1v1h6v1h11v1h2v2h30v1h8v8h1v8h1v1h3v1h1v-1h3v-1h2v-1h11v-1h5v1h7v-1h9v1h7v1h14v-1h4v1h7v-1h9v-1h20v1h7v-1" stroke="#00c000"/>
<path d="M206 502h10v-1h16v-1h19v1h1v1h2v1h2v1h4v1h3v1h1v-1h2v-1h2v-1h3v1h7v-1h4v-1h8v-5h1v-4h3v2h12v-1h23v2h1v1h1v2h4v-1h9v1h6v1h3v1h6v-1h6v1h5v1h3v-1h4v1h54v-2h2v-2h6v1h5v1h3v1h1v2h1v1h8v1h9v-16h1v-15h6v-2h7v1h1v-1h2v1h3v1h4v1h9v-1h5v1h5v1h7v1h2v2h2v1h1v9h1v9h1v8h14v-1h5v-1h8v-1h5v-1h6v-1h2v-1h4v1h1v-1h16v1h4v1h9v1h3v1h10v1h15v-1h36v1h19v-1h6v-1h12v1h2v1h6v1h4v-1h7v-1h5v1h5" stroke="#00c000"/>
<path d="M20 485h10v-2h14v1h7v1h3v1h2v1h8v1h4v-2h4v-1h16v1h3v8h1v8h1v1h2v1h3v-1h7v1h22v-1h12v-1h4v2h16v1h2v-1h4v1h7v-1h1v-1h3v-1h9v1h6v-1h11" stroke="#90a000"/>
<path d="M206 502h4v1h5v-1h13v1h21v-1h2v1h2v1h2v1h4v1h6v-1h2v-1h2v2h1v-1h3v-1h4v-1h13v-4h1v-5h21v-1h4v1h10v1h3v1h1v2h1v1h5v1h2v-1h15v1h2v1h7v1h5v1h6v-1h4v1h8v-1h9v1h6v1h13v1h14v-2h4v-2h1v-1h1v-1h14v3h1v2h1v1h2v-2h11v-1h4v-15h1v-15h2v-1h9v1h3v1h2v1h6v1h13v1h14v1h3v1h2v9h1v9h1v9h1v-1h5v1h9v-1h4v1h7v1h1v-1h5v-2h3v-1h1v-1h6v-1h17v-1h4v1h1v2h2v1h4v1h10v-1h5v1h4v1h31v1h11v-1h4v-1h7v1h10v-2h4v1h7v-1h10v1h4v1h1v1h5v-1h4v-1h1v-1h12v1h1v1h3" stroke="#90a000"/>
<path d="M20 485h7v-1h20v1h1v-1h4v1h4v1h4v1h17v1h14v7h1v8h1v1h2v2h3v-1h2v-1h4v1h11v-1h7v-1h11v1h8v1h3v1h6v-1h5v1h1v-1h3v1h10v-1h7v-1h5v-1h21" stroke="#e07020"/>
<path d="M206 503h1v1h7v-1h3v-1h5v1h8v1h6v1h8v-1h2v1h6v1h1v-1h1v1h2v1h4v-1h4v1h3v-1h6v-1h7v-1h1v-1h9v-4h1v-5h29v1h9v1h1v2h1v1h8v-1h16v1h3v1h8v1h5v1h21v1h13v-1h1v1h1v-2h24v-1h2v-1h8v1h6v2h1v1h1v2h3v-2h14v-16h1v-15h9v1h4v-1h1v1h3v1h9v1h13v1h8v1h2v1h2v1h3v9h1v9h1v9h13v-1h7v-1h7v-1h5v-1h8v-1h18v-1h4v1h7v1h4v1h7v1h8v1h12v-1h26v2h11v-1h7v1h7v1h12v-1h7v-1h5v1h2v1h2v1h7v-1h3v-2h4v1h11v-1" stroke="#e07020"/>
<path d="M20 487h5v-1h15v1h5v-1h4v1h5v1h2v-1h5v2h21v1h9v7h1v8h1v1h2v1h3v-1h2v-1h2v-1h20v-1h15v1h6v-1h16v1h16v-1h14v1h10v-2h3" stroke="#9040a0"/>
<path d="M206 502h4v2h6v-1h1v-1h13v1h13v-1h8v1h2v1h2v1h5v2h6v-1h4v-1h5v-1h14v-2h1v-4h1v-5h9v1h17v1h10v-1h2v2h1v1h1v2h4v1h13v1h5v1h3v1h2v-1h6v1h35v1h5v-2h5v1h22v-1h1v-1h1v-1h3v-1h11v2h1v2h1v1h17v-15h1v-15h13v1h3v1h4v1h18v-1h1v1h10v1h3v1h1v2h1v8h1v9h1v9h4v-2h11v-1h1v2h4v-1h8v-1h3v-1h2v-1h7v-1h2v1h3v-1h2v1h11v1h7v1h1v1h4v-2h1v1h5v-1h6v1h1v1h5v1h12v1h7v-1h13v-1h5v1h10v1h20v-1h4v-1h4v-1h10v1h3v1h2v1h7v1h1v-1h7v-1h11v1" stroke="#9040a0"/>
<path d="M20 488h5v-1h7v-2h5v1h15v1h7v1h32v6h1v8h1v1h3v1h1v-1h2v-1h5v1h47v1h25v-1h14v1h12" stroke="#b08040"/>
<path d="M206 504h3v-1h11v-1h8v1h4v1h8v1h5v-1h4v-1h4v1h2v1h4v1h3v1h2v-1h2v-1h4v-1h9v-1h2v1h9v-5h1v-4h14v-1h17v1h7v2h1v1h1v2h9v1h6v-1h4v1h4v-2h1v1h4v-1h1v1h8v1h3v1h4v-1h9v2h15v-2h9v1h17v1h6v-1h1v-1h1v-1h4v1h9v-1h1v1h1v2h1v1h17v-15h1v-14h5v2h10v1h2v-1h4v1h7v1h8v-1h6v1h5v-1h2v1h3v1h2v9h1v9h1v8h13v-1h6v-1h7v-1h6v-1h9v-2h17v1h5v1h3v1h6v1h3v1h4v-1h4v1h5v1h12v1h4v-1h14v1h12v-1h23v1h10v-1h1v-1h6v-1h5v1h1v1h2v1h8v-1h3v-1h9v1h4v1h2" stroke="#b08040"/>
<path d="M20 489h7v-1h8v-2h4v3h11v-1h2v1h10v1h5v-1h4v2h12v-1h8v8h1v7h1v1h1v1h2v1h1v-1h2v-1h16v-2h29v1h17v1h6v-1h8v1h10v-1h17" stroke="#c0c000"/>
<path d="M206 505h11v1h9v-1h26v1h2v1h2v1h6v1h2v-1h2v-1h1v-1h7v-1h6v-1h2v1h8v-4h1v-5h23v-1h15v1h1v2h1v2h14v1h19v1h5v1h2v-1h4v1h14v2h6v-2h13v-1h21v1h2v-1h1v-1h1v-1h4v1h6v-2h4v2h1v1h1v2h17v-15h1v-15h14v1h4v1h5v1h26v1h5v9h1v9h1v8h6v1h9v1h7v-1h7v-1h6v-1h10v-1h1v1h8v-1h10v1h5v1h11v1h7v1h2v1h3v-1h9v-1h12v1h4v1h7v-1h5v-1h29v1h4v-1h5v1h8v1h3v1h8v-1h1v-1h11v-1h6" stroke="#c0c000"/>
<path d="M20 490h11v-1h8v-1h6v1h5v-1h1v1h6v1h5v1h6v-1h10v-1h13v7h1v8h1v-1h1v1h2v1h1v-1h12v1h11v-1h18v1h9v1h9v1h2v-1h3v1h12v-1h9v-1h12v1h8" stroke="#e07020"/>
<path d="M206 506h19v-1h16v-1h12v1h3v1h10v-1h9v-1h3v-1h12v-4h1v-4h15v1h23v2h1v1h1v2h31v1h5v-1h2v1h19v1h9v1h23v-2h4v1h5v1h2v-1h1v-1h1v-1h8v-1h6v1h1v2h1v1h9v-1h8v-14h1v-15h8v1h6v1h3v1h4v1h1v-1h5v1h4v-1h5v1h15v1h2v2h1v8h1v9h1v8h10v-1h4v-1h2v1h10v-1h7v-1h7v-1h9v-1h12v1h3v1h6v2h3v1h13v1h19v-1h17v2h11v-1h28v1h14v1h3v1h9v-1h7v-1h4v-2h6" stroke="#e07020"/>
<path d="M20 488h21v1h12v1h20v-1h4v2h10v-2h4v7h1v7h1v1h2v1h1v1h1v-1h2v-1h3v-1h43v1h22v1h6v-1h3v-1h20v1h4v1h2" stroke="#a0a000"/>
<path d="M206 505h8v1h6v-1h10v1h4v-1h11v-1h6v1h2v1h3v1h3v1h7v-1h2v1h4v-1h6v-1h6v-1h6v-4h1v-5h38v2h1v2h1v2h14v-1h8v1h6v1h7v1h12v1h11v-1h22v1h4v-1h15v-1h1v-1h1v-1h1v-1h7v1h7v3h1v1h1v2h8v-1h9v-14h1v-15h3v1h13v1h9v1h3v-2h3v1h5v1h4v1h9v1h1v-1h1v1h3v9h1v8h1v8h14v-1h10v-1h7v-1h1v1h6v-1h5v1h20v-1h1v1h6v1h12v1h1v-1h6v1h5v1h12v-1h7v1h13v1h8v-1h8v1h18v-2h5v-2h4v-1h5v1h3v2h11v-1h16" stroke="#a0a000"/>
<path d="M20 489h12v-1h11v1h7v1h4v1h8v1h9v-2h20v7h1v7h1v1h2v1h3v-1h2v-1h16v-1h12v1h36v-1h24v1h4v1h7v1h3" stroke="#c0a0ff"/>
<path d="M206 506h4v-1h4v1h12v-2h7v1h5v-1h8v1h4v1h3v1h2v1h4v1h5v-1h3v-1h6v-1h6v-1h2v1h9v-4h1v-4h16v-2h22v2h1v1h1v2h6v-1h3v1h7v1h10v1h8v1h4v1h17v1h21v-1h5v-1h5v1h11v-1h3v-1h1v-1h1v-1h4v1h10v2h1v1h1v2h7v-1h10v-14h1v-14h1v-1h14v1h6v1h9v1h13v1h6v1h5v8h1v9h1v8h1v-1h14v-1h7v1h4v-1h15v-1h9v-1h12v-1h2v1h5v1h12v1h8v1h15v1h35v-1h6v1h4v-1h10v1h13v-1h2v1h4v1h9v-1h2v-1h9v-1h6" stroke="#c0a0ff"/>
<path d="M20 490h18v-1h6v1h7v1h2v-1h10v1h16v1h11v-1h1v7h1v7h1v1h2v1h3v-1h2v-1h7v-1h4v1h23v-2h11v1h8v1h7v1h15v-2h4v1h9v1h10v-1h4" stroke="#000080"/>
<path d="M206 506h6v-1h5v1h10v-1h25v1h2v1h1v1h4v1h3v-1h3v-1h2v1h2v-1h7v-1h14v-4h1v-4h1v-1h30v1h7v2h2v2h11v1h5v-1h8v1h9v1h3v-1h1v1h10v1h29v1h24v-1h1v-1h1v-1h7v-1h7v1h1v2h7v1h4v1h7v-14h1v-15h4v1h10v1h4v1h5v1h6v-1h2v1h6v-1h3v1h4v-1h8v1h2v9h1v8h1v8h3v1h10v-1h9v-1h1v-1h5v-1h1v1h2v-1h14v-1h8v1h8v1h5v1h1v-1h2v1h2v-1h4v1h6v1h4v-1h1v1h19v1h19v1h12v-2h11v-1h26v1h3v1h2v1h10v-1h11v-1h5" stroke="#000080"/>
<path d="M20 491h11v1h10v-1h2v1h27v1h13v1h4v-1h4v7h1v7h2v1h2v1h1v-1h2v-1h1v-1h6v-2h6v1h4v1h22v-1h5v1h4v1h6v-1h8v1h12v-1h3v-1h6v1h4v1h5v-1h11" stroke="#704020"/>
<path d="M206 506h3v1h14v1h5v-1h23v1h3v1h2v1h2v1h3v1h3v-1h2v-3h1v-1h6v-1h17v-4h1v-4h3v-1h8v1h13v-1h14v2h1v2h1v1h22v1h6v-1h4v1h1v1h21v-1h15v1h18v1h13v-1h1v-1h1v-1h2v1h4v-1h1v1h7v1h1v2h1v1h17v-14h1v-14h4v-1h6v2h5v1h6v-1h4v1h8v1h8v-1h9v1h3v1h1v8h1v8h1v8h4v1h10v-1h12v-1h8v-1h5v-1h8v-1h11v1h4v1h3v1h6v1h2v-1h1v1h15v1h11v1h8v-1h11v-1h16v-1h5v2h16v1h20v1h2v1h8v-1h1v-1h2v-1h12v-1h3" stroke="#704020"/>
<path d="M20 491h10v-1h7v1h14v1h5v-1h1v1h23v1h11v6h1v8h2v1h2v1h1v-1h2v-1h4v-2h4v1h8v-2h12v2h16v-1h8v-1h3v1h5v1h10v1h5v-1h4v1h9v-2h5v-1h10" stroke="#40f000"/>
<path d="M206 504h5v1h8v1h19v1h14v1h2v1h5v1h6v-1h2v-1h3v-1h3v-1h1v1h1v-1h15v-3h1v-4h9v-1h5v-1h19v1h5v2h1v2h1v1h1v-1h9v-1h5v1h10v1h6v1h14v2h8v-1h21v1h5v1h4v-1h17v-1h2v-1h3v-1h11v2h1v2h1v1h5v1h12v-14h1v-14h5v1h4v-1h7v1h7v-2h1v1h10v1h2v1h10v-1h1v1h5v1h2v8h1v8h1v8h14v-1h3v1h6v-1h7v-1h15v-1h1v-1h12v1h3v1h5v1h2v-1h1v1h10v1h1v-1h2v1h7v1h2v-2h12v1h5v-1h6v2h4v-1h7v1h7v1h9v-1h6v-3h9v-1h6v2h3v-1h8v2h2v1h2v1h1v1h8v-1h2v-1h16" stroke="#40f000"/>
<path d="M20 492h11v1h8v-1h11v1h3v1h12v-1h26v7h1v7h2v1h2v1h1v-1h1v-1h1v-1h2v-1h2v2h2v-1h12v-1h38v1h18v-1h5v1h22v1h2" stroke="#6080ff"/>
<path d="M206 507h26v-1h19v1h4v1h4v1h1v-1h3v1h1v-1h2v-1h1v1h4v-1h3v1h4v-1h12v-4h1v-4h3v-2h8v1h22v1h5v1h1v2h1v1h6v1h9v-1h8v1h5v1h3v-1h3v1h3v1h12v1h10v-2h41v-1h1v-1h5v1h7v1h3v1h1v2h1v2h7v-1h10v-14h1v-13h15v1h5v1h1v-1h11v1h18v1h4v8h1v8h1v8h12v-1h3v-1h8v-1h6v-1h4v1h3v-1h9v-1h8v-2h9v1h5v2h6v1h13v1h3v1h6v1h21v2h12v-2h15v-1h11v1h10v-1h9v1h1v-1h3v1h7v1h4v-1h4v-1h12" stroke="#6080ff"/>
<path d="M20 492h7v-1h10v1h5v-1h9v1h11v1h13v-1h16v7h1v6h2v1h1v2h3v-1h2v-1h6v-1h2v-1h3v1h12v1h31v1h1v-1h21v-1h8v-1h11v1h7" stroke="#a000a0"/>
<path d="M206 506h5v-1h5v1h7v-1h20v1h7v1h2v1h2v1h2v1h6v1h3v-1h2v-1h9v-1h6v-1h8v-4h1v-5h28v1h10v1h1v2h1v2h3v-1h10v1h9v1h13v1h2v-2h1v1h6v2h8v-1h46v1h2v-1h1v-1h1v-1h2v1h8v2h4v2h1v2h1v1h11v-1h6v-14h1v-13h3v1h11v-1h3v1h2v-1h4v1h4v-1h17v1h7v1h3v8h1v8h1v7h5v-1h31v-1h3v-2h25v2h3v1h5v-1h2v1h8v1h5v1h14v-1h8v1h9v-1h10v1h12v-1h8v1h4v-1h10v-1h11v1h4v1h10v-1h7v-1h5v1h5" stroke="#a000a0"/>
<path d="M20 493h5v1h20v-1h7v1h24v1h15v6h1v6h1v2h2v1h3v-1h1v-1h7v-1h12v1h8v-2h30v1h1v-1h13v2h5v-1h1v-1h15v1h11" stroke="#ff3030"/>
<path d="M206 508h3v-2h8v1h12v-1h9v1h14v1h2v1h2v1h5v1h3v-1h2v-1h6v-1h6v-1h4v1h8v-4h1v-4h10v-1h8v-1h12v2h4v1h4v1h1v2h1v1h16v-1h12v1h3v1h8v1h17v-1h5v1h7v-1h12v1h20v-1h1v-1h1v-2h11v1h1v-1h2v2h1v1h1v2h17v-13h1v-14h12v1h2v-3h2v1h4v2h5v1h5v1h4v1h6v-1h9v1h5v7h1v8h1v8h7v1h6v-1h7v-2h5v-1h36v1h5v2h7v1h5v-1h4v1h6v1h5v-1h35v1h38v-1h11v1h11v-1h16" stroke="#ff3030"/>
<path d="M20 493h22v1h9v1h1v-1h10v1h10v1h7v1h10v-1h2v6h1v6h1v1h2v1h3v-1h2v-1h4v-1h15v-1h9v1h11v1h6v-1h5v-1h6v1h14v2h3v-1h5v-1h8v-2h7v2h9" stroke="#b08040"/>
<path d="M206 508h9v-1h19v-1h10v1h7v1h2v1h2v1h3v-1h2v1h5v-1h2v-1h2v1h5v-1h1v-1h10v1h5v-4h1v-5h1v1h32v1h5v1h1v2h1v1h10v1h12v-1h8v1h2v1h4v-1h9v-1h6v1h6v1h4v1h12v-1h7v1h12v-1h8v-1h1v-1h1v-1h1v1h1v-1h4v1h8v2h1v2h1v1h1v-1h16v-13h1v-13h12v1h5v1h2v-1h4v1h9v1h3v1h4v-2h5v1h6v1h1v-1h2v1h1v7h1v7h1v8h4v1h4v-1h7v-1h6v1h7v-1h7v-1h4v-1h8v-1h10v2h5v1h5v1h6v-1h5v1h2v-2h2v1h7v1h3v-1h8v2h17v-1h10v-1h9v1h7v1h8v-1h21v1h2v1h3v1h9v-1h2v-1h8v-2h5v1h3" stroke="#b08040"/>
<path d="M20 495h9v-2h24v2h1v1h5v-1h12v1h20v7h1v6h2v1h2v1h1v-1h2v-1h3v-1h5v-1h48v-1h3v1h4v-1h6v2h6v-1h10v-1h13v2h5" stroke="#8060c0"/>
<path d="M206 509h4v-1h24v1h7v-1h11v1h1v1h2v1h4v1h5v-1h2v-1h4v-1h9v-1h11v-4h1v-4h7v-1h27v1h4v2h1v1h1v1h7v1h26v1h6v-1h7v1h6v2h10v1h12v-1h6v-1h7v2h7v-1h5v-1h1v-1h1v-1h1v-1h12v1h2v1h1v2h1v2h17v-13h1v-13h5v1h6v-1h1v1h5v1h3v1h12v1h1v-1h15v1h3v1h3v7h1v8h1v7h3v-1h11v-1h1v-1h10v-1h3v-1h2v1h3v-1h1v1h4v-1h26v1h12v1h4v1h3v-1h4v1h36v1h4v-1h4v-2h13v1h5v1h10v1h15v1h1v-1h1v1h2v1h5v1h4v-1h2v-1h1v1h14v-1" stroke="#8060c0"/>
<path d="M20 496h11v1h14v-1h8v1h1v-1h5v1h12v1h5v-1h12v-1h3v6h1v6h2v1h2v1h2v-1h2v-1h23v-1h11v1h12v-1h7v1h5v1h7v-2h9v-1h10v1h8v1h8v-1h2" stroke="#40c0ff"/>
<path d="M206 508h3v1h8v-1h21v1h6v-1h8v1h2v1h5v1h1v2h4v-1h2v-1h4v-1h4v-1h3v-1h13v-4h1v-3h4v-1h7v1h27v1h1v2h1v1h16v2h10v1h11v1h4v-1h4v-1h21v-1h7v3h11v-1h16v-1h1v-1h1v-2h6v1h8v2h1v2h1v1h1v-1h9v1h7v-13h1v-13h11v1h6v1h8v1h3v1h16v1h1v-1h1v1h7v1h1v7h1v7h1v7h7v-1h8v-1h11v-1h2v1h3v-1h6v-2h12v-1h9v1h6v1h16v3h7v1h4v-1h6v-2h6v1h19v-1h16v1h4v1h11v1h8v-2h7v1h6v1h2v1h2v1h8v-2h2v-1h3v1h13" stroke="#40c0ff"/>
<path d="M20 495h11v1h23v1h20v1h5v-1h12v7h1v6h2v1h4v-1h1v-1h6v-1h4v1h6v-2h7v1h6v1h15v-1h13v1h14v1h3v-1h1v-1h20v-1h4v1h4" stroke="#f0a0a0"/>
<path d="M206 509h16v-1h21v1h9v1h2v1h2v1h4v1h5v-1h2v-1h5v-1h5v1h2v-1h11v-4h1v-3h4v-1h11v1h12v-1h11v1h1v2h1v1h27v2h54v-1h4v1h8v-1h7v-1h2v-1h4v-1h7v1h3v1h1v2h1v2h5v1h8v1h4v-12h1v-11h12v-1h4v1h2v1h26v-1h6v1h2v-1h1v1h1v6h1v7h1v7h12v1h2v-1h11v-1h7v-1h5v-1h3v-1h14v1h9v1h6v1h11v1h6v1h3v1h17v-1h19v1h5v-1h11v1h17v-1h15v1h1v1h2v1h2v1h2v-1h6v-1h1v-1h2v-2h15" stroke="#f0a0a0"/>
<path d="M20 497h10v-1h21v1h20v-1h19v1h1v6h1v6h1v1h3v1h1v-1h2v-1h1v-1h1v1h4v-1h5v1h9v1h8v-1h4v2h9v-1h10v1h1v-1h3v1h5v-1h14v-1h12v1h5v-1h12" stroke="#ffa0b0"/>
<path d="M206 510h13v-1h21v1h12v1h2v1h2v1h5v1h4v-1h1v-1h3v-1h6v-1h15v-3h1v-3h4v-1h4v1h30v1h1v1h1v1h1v1h7v1h3v-2h4v1h4v-1h2v1h2v-1h5v1h7v1h36v-2h24v1h5v-1h2v-1h4v-1h8v1h2v2h1v2h1v2h11v-1h6v-11h1v-11h9v1h11v1h7v1h6v-1h12v1h5v-1h1v1h3v6h1v7h1v6h13v-1h2v-1h5v1h6v-1h9v-1h3v1h1v-1h4v1h5v-1h8v-1h7v1h6v1h9v1h9v1h1v-1h4v1h11v-1h4v1h27v-1h12v-1h7v1h6v-1h4v1h5v-1h3v1h5v1h2v1h8v-1h2v-1h6v-1h10" stroke="#ffa0b0"/>
<path d="M20 498h18v-1h16v1h7v-1h9v-1h12v1h9v7h1v6h2v1h4v-1h1v-1h7v-1h44v-1h3v1h3v1h14v1h5v-1h10v1h4v-1h10v-1h3" stroke="#d04020"/>
<path d="M206 509h2v2h31v1h9v-1h3v1h1v1h2v1h2v1h6v1h2v-1h1v-1h2v-1h7v-1h11v-1h5v-3h1v-2h19v-1h18v-1h1v1h1v1h1v1h19v1h11v1h42v-1h17v-2h7v1h4v-1h1v-1h1v-1h13v2h1v2h1v2h1v2h17v-10h1v-10h12v1h27v-1h9v1h5v1h1v6h1v6h1v6h14v-1h14v-1h4v-1h2v-1h6v-1h24v1h6v1h2v1h7v1h3v1h7v1h4v-1h7v-1h17v1h26v1h9v-1h8v2h13v1h4v1h9v-1h2v-1h1v-1h4v-1h6v-1h5" stroke="#d04020"/>
<path d="M20 499h9v-2h6v2h8v-1h8v1h5v-2h5v1h6v-1h9v1h11v-1h4v6h1v7h3v1h2v-1h1v-1h2v-1h6v1h4v-1h10v1h13v-1h12v1h8v1h12v2h5v-1h6v-2h18v1h8" stroke="#d060a0"/>
<path d="M206 511h20v1h11v-2h8v1h7v1h2v1h1v1h3v1h2v-1h4v-1h1v1h1v-1h1v-1h11v-1h6v-1h6v-2h1v-3h8v1h12v-1h4v-1h10v1h4v1h1v1h1v1h40v-2h5v3h4v-1h17v-1h6v-1h7v1h17v1h5v-1h1v-1h4v-1h6v1h1v1h3v1h1v2h1v2h6v-1h11v-10h1v-9h17v1h11v1h4v-2h10v1h8v1h4v6h1v6h1v6h14v-1h2v1h6v-1h10v-1h2v-1h9v1h12v-1h7v1h5v-1h3v1h18v1h1v-1h20v2h4v1h19v1h11v-2h26v1h1v-1h2v1h4v1h2v1h8v-1h1v-1h2v-1h2v-2h11v3h2" stroke="#d060a0"/>
<path d="M20 498h18v1h15v1h4v-1h28v1h6v7h1v6h2v1h2v1h1v-1h1v-1h2v-1h8v-1h2v-1h20v-1h11v-1h10v1h4v1h4v1h7v1h5v-1h5v-1h1v-1h24v1h1" stroke="#a0a000"/>
<path d="M206 511h6v2h11v-1h16v-2h12v1h2v1h1v1h2v1h3v2h6v-1h1v-1h1v-1h6v-1h6v-1h1v1h7v1h3v-3h1v-3h7v1h4v-2h7v1h1v-2h13v1h7v1h1v1h1v1h12v1h23v-1h10v-1h5v1h8v-1h11v1h12v-1h7v1h6v-1h5v-1h1v-1h15v1h1v2h1v2h5v1h4v1h8v-8h1v-9h5v-1h4v-1h6v1h1v-1h4v-1h3v1h3v-1h4v2h7v1h7v-1h6v1h4v6h1v5h1v6h13v-1h2v-1h4v-1h8v-1h6v-1h3v-2h5v2h15v1h9v1h10v-1h6v1h8v1h19v-1h8v2h16v-1h4v1h11v1h4v-1h9v1h9v1h6v1h2v1h8v-2h1v-1h1v-1h17v-1" stroke="#a0a000"/>
<path d="M20 500h11v-1h10v2h6v-2h14v1h19v-1h6v-1h5v7h1v6h1v2h3v1h1v-1h1v-1h2v-1h4v-1h21v-1h16v1h10v1h6v1h5v-1h10v-1h4v-1h5v1h21" stroke="#a05030"/>
<path d="M206 511h1v-1h11v1h10v-1h12v-1h10v1h2v1h1v1h2v1h1v1h7v2h1v-1h1v-1h1v-1h3v-1h7v-1h3v-1h11v-2h1v-2h1v1h29v1h8v1h1v1h8v1h9v-1h4v1h14v-1h18v-1h5v1h24v-1h12v1h7v-1h1v-1h6v-1h6v1h3v2h1v2h1v2h3v-1h14v-8h1v-9h14v1h26v-1h6v1h8v6h1v6h1v6h11v-2h3v-1h10v-1h2v-1h7v-1h1v1h1v-1h19v-1h8v1h3v1h3v1h20v1h16v1h16v2h11v-1h10v1h6v-1h16v-1h6v1h8v1h9v-1h2v-1h1v-1h8v1h7" stroke="#a05030"/>
<path d="M20 500h71v6h1v7h2v1h3v-1h1v-1h2v-1h5v-1h45v1h5v1h14v-1h5v-1h28" stroke="#40b0ff"/>
<path d="M206 511h45v1h2v1h1v1h2v1h4v1h4v-1h1v-1h2v-1h4v-1h6v-1h13v-2h1v-2h19v1h19v1h2v1h19v1h16v-1h14v-1h51v-1h2v-1h14v2h1v2h1v2h17v-7h1v-8h54v5h1v6h1v5h13v-1h2v-1h10v-1h7v-1h31v1h5v1h20v1h81v1h6v1h2v1h9v-1h1v-1h2v-1h15" stroke="#40b0ff"/>
</g>
<rect x="20" y="478" width="183" height="1" fill="#000"/>
<rect x="206" y="478" width="522" height="1" fill="#000"/>
<rect x="20" y="484" width="183" height="1" fill="#000"/>
<rect x="206" y="484" width="522" height="1" fill="#000"/>
<rect x="20" y="499" width="183" height="1" fill="#000"/>
<rect x="206" y="499" width="522" height="1" fill="#000"/>
<g transform="translate(0.5,0.5)" fill="none" stroke-width="1" shape-rendering="crispEdges">
<path d="M790 491h1v1h2v1h1v1h2v1h10v1h10v-2h1v-2h1v-2h1v-10h1v-9h1v-9h1v-10h8v1h7" stroke="#000"/>
<path d="M846 453h1v-1h5" stroke="#000"/>
<path d="M857 452h2v1h4v1h4v1h4v1h4v1h5v1h7v1h4v1h1v1h1v1h1v4h1v3h1v3h1v4h1v2h1v2h1v2h1v1h1v2h1v2h1v2h1v-7h1v-6h8v5h1v5h36v6h1v5h4v-10h1v-10h3v1h7v1h5v1h6v1h6v1h6v1h6v1h6v1h1" stroke="#000"/>
<path d="M790 495h3v1h3v1h5v-1h6v1h4v-1h5v-1h1v-1h1v-2h1v-8h1v-10h1v-9h1v-10h14v1h1v-1" stroke="#a05030"/>
<path d="M846 454h6" stroke="#a05030"/>
<path d="M857 454h4v1h4v1h1v1h4v1h4v1h2v1h5v1h10v3h1v3h1v2h1v5h1v5h1v5h1v4h5v2h3v-3h1v-3h8v2h1v2h29v1h4v-2h3v5h1v5h4v-6h1v-5h1v1h1v1h4v1h4v1h3v2h2v1h8v1h13v1h3v-1h7v1" stroke="#a05030"/>
<path d="M790 495h1v1h3v1h22v-1h1v-1h1v-2h1v-9h1v-10h1v-9h1v-10h4v1h11" stroke="#ff6000"/>
<path d="M846 456h4v-1h1v1h1" stroke="#ff6000"/>
<path d="M857 456h4v1h4v1h4v1h4v1h4v1h4v1h4v1h5v1h1v2h1v3h1v3h1v4h1v5h1v5h1v5h3v1h5v-3h1v-3h8v2h1v2h19v-1h10v1h7v5h1v4h4v-5h1v-5h2v1h7v1h4v1h10v1h5v1h7v-1h11v1" stroke="#ff6000"/>
<path d="M790 495h3v1h3v1h20v-2h1v-1h1v-1h1v-10h1v-9h1v-10h1v-10h8v1h7" stroke="#9040a0"/>
<path d="M846 455h6" stroke="#9040a0"/>
<path d="M857 455h2v1h4v1h1v-1h4v1h4v2h4v1h2v1h5v1h5v1h3v3h1v3h1v2h1v5h1v5h1v5h1v4h2v1h6v-3h1v-3h7v1h1v2h1v2h16v-1h9v1h11v5h1v5h4v-7h1v-5h2v1h4v1h3v1h2v1h4v1h6v1h7v-1h7v1h8v1h3" stroke="#9040a0"/>
<path d="M790 497h2v1h7v2h9v-1h8v-2h1v-1h1v-1h1v-10h1v-9h1v-10h1v-10h11v1h4" stroke="#d060a0"/>
<path d="M846 457h2v-1h4v1" stroke="#d060a0"/>
<path d="M857 457h4v1h2v1h4v1h4v1h1v1h4v1h2v-1h3v1h5v1h5v2h1v3h1v3h1v4h1v5h1v5h1v4h2v1h6v-2h1v-3h8v2h1v2h20v-1h11v1h5v5h1v4h4v-4h1v-5h1v1h4v1h4v1h5v1h1v-2h3v1h8v-1h9v1h10v1h1" stroke="#d060a0"/>
<path d="M790 496h2v1h2v1h11v1h4v-1h4v-1h3v-1h1v-1h1v-2h1v-9h1v-10h1v-9h1v-10h5v1h9v1h1" stroke="#ff3030"/>
<path d="M846 456h6" stroke="#ff3030"/>
<path d="M857 455h1v1h4v1h2v1h4v1h6v1h5v1h1v1h1v1h7v1h3v3h1v3h1v2h1v4h1v5h1v5h1v4h1v1h1v1h3v1h3v-3h1v-2h7v-1h1v2h1v2h19v-2h17v4h1v4h4v-4h1v-5h4v1h2v1h2v1h4v1h3v2h8v1h10v1h13" stroke="#ff3030"/>
<path d="M790 496h2v1h3v1h14v1h7v-1h1v-2h1v-1h1v-10h1v-10h1v-9h1v-10h12v1h3" stroke="#a0a000"/>
<path d="M846 457h6" stroke="#a0a000"/>
<path d="M857 456h1v1h5v1h1v1h3v1h5v1h6v1h5v1h5v1h3v3h1v3h1v3h1v4h1v6h1v4h1v5h8v-2h1v-3h8v2h1v2h2v1h10v-1h21v1h3v4h1v4h4v-5h1v-5h1v1h5v1h1v-1h1v1h4v1h5v1h8v2h14v1h7v-2" stroke="#a0a000"/>
<path d="M790 498h4v1h7v1h6v-1h9v-1h1v-1h1v-2h1v-10h1v-9h1v-10h1v-9h6v2h7v-1h2" stroke="#00c000"/>
<path d="M846 458h3v-1h3" stroke="#00c000"/>
<path d="M857 457h4v1h5v1h5v1h5v1h1v-1h1v1h5v1h3v1h5v3h1v3h1v3h1v5h1v5h1v4h1v5h3v-1h4v1h1v-3h1v-2h2v2h6v2h1v2h10v-1h15v1h4v1h6v-1h1v4h1v4h4v-4h1v-5h2v1h5v1h4v1h4v1h5v-1h1v1h14v1h7v1h4" stroke="#00c000"/>
<path d="M790 499h4v1h22v-1h1v-1h1v-2h1v-9h1v-9h1v-10h1v-9h15" stroke="#50d050"/>
<path d="M846 459h6" stroke="#50d050"/>
<path d="M857 459h3v1h5v1h6v1h5v1h3v1h3v1h9v3h1v3h1v3h1v4h1v5h1v4h1v5h2v2h5v1h1v-2h1v-2h3v-1h5v2h1v2h3v-1h12v-1h12v1h9v3h1v4h2v-1h2v-5h1v-4h3v1h4v1h4v1h5v1h2v1h15v1h13" stroke="#50d050"/>
<path d="M790 498h2v1h4v1h13v-1h7v-1h1v-2h1v-1h1v-9h1v-9h1v-9h1v-10h6v1h9" stroke="#e07020"/>
<path d="M846 459h6" stroke="#e07020"/>
<path d="M857 459h3v1h3v1h3v1h7v1h4v1h4v-1h1v1h5v-1h2v1h2v3h1v3h1v3h1v5h1v4h1v5h1v4h5v1h3v-2h1v-1h8v2h1v1h8v1h9v1h6v-1h13v3h1v4h4v-5h1v-4h3v1h2v1h3v1h1v-1h1v1h4v1h17v1h3v1h12" stroke="#e07020"/>
<path d="M790 499h3v1h21v1h2v-1h1v-2h1v-1h1v-9h1v-9h1v-9h1v-10h1v1h7v1h7" stroke="#a0a000"/>
<path d="M846 462h1v-1h5" stroke="#a0a000"/>
<path d="M857 461h1v1h3v1h4v1h4v2h6v1h4v-1h4v1h8v3h1v3h1v3h1v5h1v4h1v4h1v4h7v1h1v-3h1v-2h8v4h1v2h19v-1h10v-1h6v1h1v3h1v3h4v-4h1v-4h1v1h4v2h4v1h5v1h3v-1h6v1h4v-2h12v1h6v1h1" stroke="#a0a000"/>
<path d="M790 500h4v1h2v-1h19v1h1v-1h1v-1h1v-2h1v-9h1v-9h1v-9h1v-9h8v1h4v1h3" stroke="#808000"/>
<path d="M846 463h2v-1h4" stroke="#808000"/>
<path d="M857 462h3v1h6v1h5v1h5v1h8v1h7v3h1v3h1v3h1v5h1v4h1v5h1v4h5v1h3v-2h1v-2h8v2h1v2h4v-1h11v1h6v-1h7v1h8v3h1v3h4v-4h1v-4h3v1h5v1h5v1h3v1h21v1h4v1h5" stroke="#808000"/>
<path d="M790 499h2v1h16v-1h4v2h4v-1h1v-1h1v-1h1v-9h1v-9h1v-10h1v-9h2v1h2v-1h6v1h5" stroke="#e08040"/>
<path d="M846 462h4v-1h2" stroke="#e08040"/>
<path d="M857 461h1v-1h2v1h3v1h5v1h4v1h5v1h6v1h4v1h4v3h1v3h1v3h1v5h1v4h1v4h1v5h7v1h1v-1h1v-2h3v-1h5v2h1v2h5v1h10v-1h9v2h8v-2h4v3h1v3h4v-4h1v-4h1v1h3v1h2v1h8v1h8v1h1v-1h3v1h18v1h2" stroke="#e08040"/>
<path d="M790 500h1v1h4v1h7v-2h14v-1h1v-1h1v-1h1v-9h1v-9h1v-9h1v-9h6v1h2v1h7" stroke="#8060c0"/>
<path d="M846 463h1v1h5" stroke="#8060c0"/>
<path d="M857 464h3v1h2v-3h1v1h6v1h1v-1h2v1h5v1h2v1h6v1h6v3h1v2h1v3h1v5h1v4h1v5h1v4h8v-1h1v-1h8v2h1v2h32v1h4v3h1v2h4v-3h1v-3h4v1h6v1h6v1h22v1h1v-1h7v1" stroke="#8060c0"/>
<path d="M790 502h4v1h6v-2h16v-1h1v-1h1v-1h1v-9h1v-9h1v-9h1v-9h11v1h4" stroke="#b08040"/>
<path d="M846 463h6" stroke="#b08040"/>
<path d="M857 462h1v1h6v1h6v1h5v1h9v1h4v-1h3v3h1v3h1v3h1v5h1v4h1v4h1v5h8v-1h9v2h1v2h10v-1h4v1h10v-1h12v3h1v3h4v-4h1v-4h2v1h5v1h5v1h2v1h1v1h3v-1h1v1h25v-1h2" stroke="#b08040"/>
<path d="M790 500h3v1h3v1h10v-1h10v-1h1v-1h1v-1h1v-9h1v-9h1v-9h1v-8h2v1h5v-1h1v1h7" stroke="#d0a060"/>
<path d="M846 464h6" stroke="#d0a060"/>
<path d="M857 465h6v1h3v-2h1v1h6v1h6v1h6v1h4v2h2v3h1v3h1v3h1v4h1v4h1v5h1v4h8v-1h1v-1h1v-1h7v2h1v2h2v-1h29v-1h5v3h1v2h4v-3h1v-4h2v1h3v1h6v1h4v1h7v1h16v1h1v-1h7" stroke="#d0a060"/>
<path d="M790 501h1v1h3v1h11v-1h4v-1h6v1h1v-1h1v-1h1v-1h1v-9h1v-9h1v-8h1v-9h8v2h7" stroke="#600020"/>
<path d="M846 466h4v-1h2" stroke="#600020"/>
<path d="M857 465h4v1h6v1h10v1h5v1h9v4h1v2h1v3h1v4h1v4h1v5h1v4h8v-1h1v-1h4v-1h4v2h1v2h1v1h10v1h21v-1h4v3h1v2h4v-3h1v-3h1v-1h1v1h6v1h6v2h14v1h12v-1h6" stroke="#600020"/>
<path d="M790 500h3v1h2v2h4v-1h17v-1h1v-1h1v-1h1v-8h1v-9h1v-9h1v-9h4v1h8v-1h3" stroke="#ffa0b0"/>
<path d="M846 465h6" stroke="#ffa0b0"/>
<path d="M857 465h2v1h4v1h2v-1h7v1h1v-1h2v1h7v1h2v1h5v1h2v3h1v3h1v3h1v5h1v4h1v4h1v5h2v-1h6v-1h1v-1h3v1h5v2h1v2h1v-1h25v1h10v1h1v2h4v-3h1v-3h8v1h4v1h11v1h13v-1h5v1h5v1" stroke="#ffa0b0"/>
<path d="M790 501h2v1h5v1h16v-1h3v-1h1v-1h1v-1h1v-8h1v-9h1v-9h1v-8h10v1h5v1" stroke="#c08060"/>
<path d="M846 466h6" stroke="#c08060"/>
<path d="M857 466h6v1h8v1h10v1h6v1h4v5h1v3h1v3h1v4h1v4h1v4h1v4h3v1h5v-1h1v-1h1v-3h5v2h2v1h1v2h3v-1h9v1h24v2h1v2h4v-2h1v-3h11v1h7v1h7v1h8v-1h2v1h7v-1h2v1h2" stroke="#c08060"/>
<path d="M790 501h2v1h8v-1h9v1h7v-1h1v-1h1v-1h1v-8h1v-9h1v-8h1v-9h15v2" stroke="#40f000"/>
<path d="M846 467h5v-1h1" stroke="#40f000"/>
<path d="M857 466h3v1h4v-1h1v1h6v1h7v1h10v1h3v3h1v3h1v4h1v4h1v4h1v4h1v5h8v-1h4v-1h5v2h1v2h4v-1h5v1h7v-1h19v1h1v2h1v2h4v-3h1v-3h1v1h4v-1h7v1h7v2h15v1h2v-1h7v1h3" stroke="#40f000"/>
<path d="M790 501h4v1h2v1h10v1h7v-2h4v-1h1v-1h1v-9h1v-8h1v-9h1v-8h14v2h1" stroke="#000080"/>
<path d="M846 468h6" stroke="#000080"/>
<path d="M857 468h1v-1h6v1h2v-1h1v1h8v1h3v1h1v1h11v1h1v3h1v3h1v3h1v4h1v4h1v4h1v4h5v1h3v-1h1v-1h4v1h4v1h1v2h12v1h7v-1h5v1h4v-1h7v1h1v1h1v2h4v-3h1v-2h5v-1h3v1h9v1h4v1h7v1h3v-2h1v1h14" stroke="#000080"/>
<path d="M790 503h5v1h20v-1h1v-1h1v-1h1v-1h1v-8h1v-9h1v-8h1v-9h4v-1h11" stroke="#704020"/>
<path d="M846 465h2v1h4" stroke="#704020"/>
<path d="M857 466h1v1h7v1h5v-1h2v1h4v1h9v1h6v3h1v3h1v4h1v4h1v4h1v5h1v4h2v-1h7v-1h2v1h6v1h1v2h5v1h18v1h13v2h1v1h4v-3h1v-3h3v1h7v1h3v-1h4v1h10v1h19v-1" stroke="#704020"/>
<path d="M790 503h3v1h2v-1h1v1h11v-1h9v-1h2v-2h1v-8h1v-9h1v-8h1v-8h15v1" stroke="#c0a0ff"/>
<path d="M846 468h2v-1h4" stroke="#c0a0ff"/>
<path d="M857 467h3v1h2v1h10v1h12v1h2v1h3v1h2v3h1v3h1v3h1v4h1v4h1v4h1v4h3v1h6v-1h2v-1h6v2h1v2h36v2h1v1h4v-2h1v-3h2v1h9v1h2v1h11v1h4v-2h9v1h4v-1h5" stroke="#c0a0ff"/>
<path d="M790 503h4v1h8v1h9v1h5v-3h2v-1h1v-9h1v-8h1v-8h1v-9h1v1h4v-1h6v1h4" stroke="#e07020"/>
<path d="M846 469h6" stroke="#e07020"/>
<path d="M857 469h2v1h11v1h3v1h3v-1h5v1h2v-1h2v1h3v1h3v3h1v4h1v2h1v4h1v4h1v4h1v4h4v1h4v-1h9v2h1v2h9v-1h27v1h1v1h4v-2h1v-3h2v1h10v1h8v1h18v1h5v-1h3" stroke="#e07020"/>
<path d="M790 504h6v1h19v-2h1v-1h2v-1h1v-9h1v-8h1v-8h1v-8h7v1h8" stroke="#ff9040"/>
<path d="M846 469h3v1h3" stroke="#ff9040"/>
<path d="M857 470h8v1h2v1h7v-1h3v1h6v1h8v3h1v3h1v3h1v4h1v5h1v4h1v4h17v2h1v2h12v-1h6v-1h15v1h3v1h1v1h1v1h3v-2h1v-3h2v1h6v-1h6v1h5v1h12v1h15" stroke="#ff9040"/>
<path d="M790 504h4v1h21v2h1v-1h1v-1h1v-1h1v-8h1v-8h1v-8h1v-9h10v1h5" stroke="#ff8060"/>
<path d="M846 472h6" stroke="#ff8060"/>
<path d="M857 472h2v1h9v-1h1v1h5v-1h4v1h8v1h5v3h1v4h1v3h1v4h1v4h1v4h1v4h17v2h1v3h6v-1h15v-1h11v-1h4v2h1v1h1v1h3v-3h1v-2h3v1h13v1h1v-2h4v1h8v-1h3v1h14" stroke="#ff8060"/>
<path d="M790 505h3v1h2v-1h1v1h21v-1h1v-1h1v-8h1v-8h1v-8h1v-8h9v2h6" stroke="#40c0ff"/>
<path d="M846 473h6" stroke="#40c0ff"/>
<path d="M857 473h4v-1h6v2h4v-1h2v1h9v-1h6v1h3v3h1v3h1v3h1v4h1v4h1v4h1v4h12v1h5v1h1v2h9v-1h4v1h23v1h1v1h4v-3h1v-2h2v1h9v1h15v1h9v1h11" stroke="#40c0ff"/>
<path d="M790 504h3v1h3v1h10v1h8v-1h3v-1h1v-1h1v-8h1v-8h1v-8h1v-8h2v1h6v1h7" stroke="#c0c000"/>
<path d="M846 474h4v-1h2" stroke="#c0c000"/>
<path d="M857 473h6v1h3v-1h9v1h6v1h9v1h1v3h1v2h1v3h1v4h1v4h1v4h1v4h5v1h11v1h1v1h1v2h34v-1h2v2h1v1h4v-2h1v-3h5v1h3v-1h4v1h6v1h3v-1h25" stroke="#c0c000"/>
<path d="M790 505h6v1h4v-2h8v1h9v-1h1v-1h1v-7h1v-8h1v-8h1v-8h6v1h4v-1h1v1h4" stroke="#6080ff"/>
<path d="M846 473h6v2" stroke="#6080ff"/>
<path d="M857 475h11v1h9v1h1v-2h1v1h11v1h1v2h1v4h1v3h1v4h1v4h1v4h1v4h3v-1h8v1h6v1h1v2h16v-1h20v1h1v1h4v-2h1v-2h2v1h6v-1h6v1h9v2h4v-1h14v1h5" stroke="#6080ff"/>
<path d="M790 506h2v1h24v-1h1v-1h2v-8h1v-8h1v-7h1v-8h2v1h10v1h3" stroke="#a000a0"/>
<path d="M846 476h6" stroke="#a000a0"/>
<path d="M857 475h7v1h8v1h9v1h10v3h1v3h1v3h1v4h1v4h1v3h1v4h3v1h9v-2h5v2h1v1h7v1h16v-1h8v1h6v1h4v-1h1v-2h4v1h1v1h16v1h5v-1h7v-1h13" stroke="#a000a0"/>
<path d="M790 506h4v1h15v1h7v-1h2v-1h1v-8h1v-8h1v-8h1v-7h4v1h11v-1" stroke="#90a000"/>
<path d="M846 475h6" stroke="#90a000"/>
<path d="M857 475h1v2h8v1h14v1h1v-1h3v1h5v-1h2v3h1v3h1v2h1v4h1v4h1v4h1v5h9v1h8v2h1v1h15v-2h8v-1h6v1h7v1h1v1h4v-2h1v-1h1v-1h4v1h8v1h12v-1h11v1h10" stroke="#90a000"/>
<path d="M790 507h6v1h6v-1h5v-1h6v2h3v-1h1v-1h2v-8h1v-9h1v-7h1v-8h7v1h1v-1h4v1h3" stroke="#c000c0"/>
<path d="M846 475h4v1h2" stroke="#c000c0"/>
<path d="M857 476h4v1h12v1h9v1h2v-1h2v1h5v3h1v2h1v3h1v4h1v4h1v4h1v5h7v-1h8v-1h2v1h1v2h1v-1h7v1h11v1h10v1h8v1h4v-2h1v-1h13v1h8v-1h19v-1h6" stroke="#c000c0"/>
<path d="M790 506h3v1h13v1h10v-1h2v-2h1v-7h1v-8h1v-7h1v-8h3v1h12v1" stroke="#b08040"/>
<path d="M846 477h6" stroke="#b08040"/>
<path d="M857 477h1v1h3v-1h1v1h18v1h5v1h6v3h1v2h1v3h1v4h1v4h1v3h1v5h5v-1h12v2h1v1h19v1h8v-1h9v1h1v1h4v-2h1v-1h6v1h9v1h1v-1h21v-1h9" stroke="#b08040"/>
<path d="M790 507h3v1h23v-1h2v-1h1v-7h1v-6h1v-8h1v-7h14v1h1" stroke="#f0a0a0"/>
<path d="M846 479h6" stroke="#f0a0a0"/>
<path d="M857 479h2v-1h7v1h9v1h7v1h9v3h1v2h1v3h1v4h1v4h1v3h1v4h4v-1h4v1h9v1h1v2h29v1h7v1h5v-1h1v-2h6v1h1v-1h7v1h3v-1h29" stroke="#f0a0a0"/>
<path d="M790 507h5v2h11v1h7v-1h4v-1h2v-7h1v-8h1v-7h1v-7h3v1h7v1h4v-2h1" stroke="#e06030"/>
<path d="M846 479h6" stroke="#e06030"/>
<path d="M857 479h7v1h1v1h10v-1h2v1h14v3h1v2h1v3h1v4h1v4h1v3h1v4h9v1h8v1h1v1h2v-1h9v1h16v1h9v1h1v1h4v-2h1v-2h3v1h7v1h12v-2h8v-1h7v1h4v1h5" stroke="#e06030"/>
<path d="M790 507h3v1h16v1h7v-1h3v-8h1v-7h1v-7h1v-7h3v1h11v1h1" stroke="#c06000"/>
<path d="M846 481h5v-1h1" stroke="#c06000"/>
<path d="M857 480h2v1h22v2h10v2h1v3h1v2h1v4h1v4h1v3h1v4h17v2h1v1h2v-1h4v1h8v-1h10v1h7v1h6v1h4v-2h1v-2h4v1h7v1h16v-1h6v-1h7v1h6" stroke="#c06000"/>
<path d="M790 508h6v1h14v1h6v-1h3v-7h1v-7h1v-7h1v-7h11v1h4" stroke="#d04020"/>
<path d="M846 482h6v-1" stroke="#d04020"/>
<path d="M857 481h7v1h18v1h7v1h2v2h1v2h1v3h1v3h1v4h1v4h1v3h6v1h2v1h9v1h1v1h5v1h27v-1h4v1h5v-2h1v-1h11v-1h15v1h20" stroke="#d04020"/>
<path d="M790 511h5v1h5v1h12v-2h7v-7h1v-6h1v-7h1v-6h15" stroke="#a05030"/>
<path d="M846 485h6" stroke="#a05030"/>
<path d="M857 484h16v1h18v3h1v2h1v2h1v3h1v4h1v3h1v4h5v-1h3v1h2v1h7v1h1v2h11v-2h9v1h17v1h4v-2h1v-1h4v-1h11v1h31" stroke="#a05030"/>
<path d="M790 509h4v1h25v-7h1v-5h1v-6h1v-6h10v1h5" stroke="#ff6000"/>
<path d="M846 487h4v-1h2" stroke="#ff6000"/>
<path d="M857 486h1v1h11v-1h2v1h5v-1h9v1h6v2h1v2h1v2h1v4h1v3h1v3h1v4h3v-1h5v1h1v1h9v1h7v-1h6v-1h23v1h1v1h4v-2h1v-1h4v1h23v1h15v-1h4" stroke="#ff6000"/>
<path d="M790 510h3v1h2v1h21v1h2v-1h1v-6h1v-5h1v-6h1v-6h3v-2h7v1h5v-1" stroke="#9040a0"/>
<path d="M846 487h6v1" stroke="#9040a0"/>
<path d="M857 488h31v1h2v-1h1v2h1v1h1v2h1v3h1v4h1v3h1v3h3v1h6v1h8v1h1v1h8v1h29v1h4v-2h1v-1h3v-1h1v1h9v-1h20v1h13" stroke="#9040a0"/>
<path d="M790 510h1v1h4v2h12v1h10v-1h2v-5h1v-5h1v-6h1v-5h15" stroke="#d060a0"/>
<path d="M846 492h4v-1h2" stroke="#d060a0"/>
<path d="M857 491h3v-1h9v1h6v1h16v1h1v2h1v1h1v3h1v3h1v3h1v3h9v1h8v2h1v1h8v-1h10v1h6v-1h6v1h11v-1h1v-2h14v1h6v-1h7v1h9v-1h10" stroke="#d060a0"/>
<path d="M790 512h6v1h6v-1h1v1h12v1h1v-1h3v-5h1v-5h1v-7h1v-5h6v1h9" stroke="#ff3030"/>
<path d="M846 492h6" stroke="#ff3030"/>
<path d="M857 492h5v2h24v1h5v1h1v2h1v1h1v3h1v3h1v2h1v3h4v1h5v1h8v1h1v1h2v-1h13v1h12v-2h10v1h4v-2h1v-1h30v-1h16" stroke="#ff3030"/>
<path d="M790 511h4v1h2v1h9v-1h12v1h2v-4h1v-5h1v-5h1v-4h14v1h1" stroke="#a0a000"/>
<path d="M846 496h6" stroke="#a0a000"/>
<path d="M857 496h10v-1h24v1h1v2h1v1h1v2h1v3h1v3h1v2h1v1h8v1h8v1h1v1h2v-1h13v1h14v1h12v-1h1v-2h1v-2h1v1h9v-1h8v-1h19v1h8" stroke="#a0a000"/>
<path d="M790 512h4v1h12v1h13v-4h1v-5h1v-5h1v-4h15" stroke="#40b0ff"/>
<path d="M846 496h6" stroke="#40b0ff"/>
<path d="M857 496h27v1h7v1h1v1h1v1h1v2h1v3h1v3h1v2h9v1h8v1h1v1h41v-1h1v-2h46" stroke="#40b0ff"/>
</g>
<rect x="790" y="478" width="48" height="1" fill="#000"/>
<rect x="846" y="478" width="7" height="1" fill="#000"/>
<rect x="857" y="478" width="147" height="1" fill="#000"/>
<rect x="790" y="484" width="48" height="1" fill="#000"/>
<rect x="846" y="484" width="7" height="1" fill="#000"/>
<rect x="857" y="484" width="147" height="1" fill="#000"/>
<rect x="790" y="499" width="48" height="1" fill="#000"/>
<rect x="846" y="499" width="7" height="1" fill="#000"/>
<rect x="857" y="499" width="147" height="1" fill="#000"/>
<g transform="translate(0.5,0.5)" fill="none" stroke-width="1" shape-rendering="crispEdges">
<path d="M20 570h29v-1h1v-1h2v-1h10v1h29v3h1v3h6v-30h28v-5h29v-1h18v2h1v1h1v2h1v1h26" stroke="#000"/>
<path d="M206 544h2v-1h2v-1h3v-1h2v-1h19v-1h27v-1h43v-1h56v1h41v1h30v1h18v10h1v10h1v9h1v1h4v1h3v1h2v1h1v1h2v1h1v1h1v1h1v-1h2v-1h1v-1h1v-1h1v-2h1v-1h1v-1h1v-1h3v-1h2v-1h3v-1h2v-1h6v1h13v1h10v2h1v2h1v2h1v3h1v3h13v-2h1v-3h1v-2h1v-22h1v-22h36v1h1v1h13v-1h1v-1h6v1h1v2h1v1h1v1h18v1h1v1h5v-1h17v-1h12v-1h12v-1h28v-1h5v1h10v1h24" stroke="#000"/>
<path d="M20 572h11v1h11v1h6v-1h1v-1h1v-1h10v-1h3v1h9v-1h6v1h13v4h1v3h6v-32h4v1h10v-1h14v-4h4v-1h4v-1h12v1h4v-1h3v1h11v-1h9v1h1v1h1v2h1v1h9v1h9v-1h8" stroke="#600020"/>
<path d="M206 545h2v-1h2v-1h2v-1h2v1h1v-1h6v-1h5v2h7v-1h2v-1h9v-1h6v-1h8v1h11v1h21v-2h21v-1h26v2h5v-1h14v1h1v-2h8v2h14v-1h16v1h8v1h14v1h3v-1h22v1h5v-1h2v10h1v10h1v9h1v-1h1v1h3v1h3v1h2v1h2v1h1v1h1v1h5v-1h7v-1h1v1h4v-1h9v-1h7v1h13v2h5v-1h1v1h4v1h1v1h5v1h4v-1h2v-1h1v-23h1v-24h16v-1h15v1h7v1h9v-1h2v-1h8v1h1v1h1v1h1v1h5v1h2v1h8v1h2v1h12v-1h18v-1h4v-1h25v1h25v-2h8v2h23" stroke="#600020"/>
<path d="M20 573h28v-1h2v-1h12v1h10v-1h10v-2h5v1h4v3h1v3h6v-30h5v-1h10v1h9v-1h4v-4h13v1h6v-1h10v-1h18v2h1v1h1v2h1v1h3v-1h16v1h7" stroke="#e07020"/>
<path d="M206 546h3v-1h2v-1h2v-1h8v-1h12v-1h7v1h3v-1h24v-1h20v1h21v-2h21v1h10v-1h2v1h9v-1h5v1h11v1h5v-1h6v1h6v1h17v-1h7v1h5v-1h6v1h12v1h12v1h7v10h1v10h1v9h1v-1h1v1h3v1h5v1h1v1h2v1h1v1h4v-1h4v-1h3v-1h27v1h11v1h3v1h5v1h12v-23h1v-23h8v-2h41v-1h8v2h1v1h1v1h1v1h2v-1h9v1h2v1h6v2h19v-1h8v1h4v-1h19v-1h8v1h4v-1h5v1h22v-1h24" stroke="#e07020"/>
<path d="M20 572h10v1h10v-1h8v-1h2v-1h11v-1h2v1h8v-1h8v1h10v-1h2v3h1v4h6v-31h16v1h12v-4h3v-1h21v-1h17v1h6v1h1v1h1v2h1v1h9v2h14v-1h3" stroke="#e08040"/>
<path d="M206 547h2v-1h2v-1h2v-1h2v-1h17v-1h4v2h4v-1h13v-1h26v-1h34v1h5v-1h1v1h11v-1h18v-1h8v-1h5v1h20v1h17v1h12v1h30v-1h10v10h1v9h1v10h3v1h3v1h3v1h1v1h2v1h1v1h2v1h3v-1h2v-1h6v-1h4v-1h18v1h1v-1h2v1h11v2h4v1h13v1h1v-1h2v-1h1v-22h1v-22h17v-1h5v1h7v1h8v1h2v-1h10v-1h7v-1h1v1h1v1h1v1h3v1h15v3h19v1h11v-2h5v-1h4v1h1v-1h7v-1h8v2h6v1h6v-1h7v-1h8v1h8v-1h11v1h5v1h9" stroke="#e08040"/>
<path d="M20 573h17v1h6v-1h5v-1h1v-1h9v-1h4v1h7v-2h22v3h1v3h1v1h5v-30h5v-1h4v1h19v-4h2v1h13v-1h9v-1h6v1h7v1h1v-1h7v-1h2v2h1v1h1v2h1v1h5v1h9v-1h9v1h3" stroke="#c0c000"/>
<path d="M206 548h1v-1h3v-1h2v-1h2v-1h22v-2h8v-1h1v-1h8v2h9v-1h1v1h4v-1h13v2h3v-1h10v-1h12v-1h39v1h14v1h19v1h15v-2h4v1h23v1h27v1h3v10h1v9h1v10h3v1h4v1h3v1h1v1h2v1h1v1h1v1h1v-1h5v-1h1v-1h18v-1h7v1h17v1h7v-1h11v-1h1v-21h1v-22h20v1h17v1h14v-1h2v1h3v1h2v1h1v1h1v1h13v1h6v1h7v1h7v-1h21v-1h5v-2h12v2h11v-1h9v1h4v1h10v-1h24v1h3" stroke="#c0c000"/>
<path d="M20 573h16v-1h12v-1h1v-1h3v-1h16v1h7v-1h12v1h4v2h1v3h3v1h3v-30h15v1h13v-4h34v-1h13v1h1v2h1v1h1v2h10v-1h15v1h1" stroke="#e07020"/>
<path d="M206 548h1v-1h2v-1h2v-1h3v-1h2v-1h5v-1h4v1h9v-1h2v1h10v-2h10v-1h16v2h4v1h12v-1h12v-2h5v1h8v-1h23v1h12v-2h9v1h20v-1h14v1h12v1h18v2h6v-1h14v1h8v9h1v10h1v9h1v1h3v1h4v2h2v1h2v1h1v1h2v1h3v-1h5v-1h24v1h4v1h3v-1h5v1h8v1h13v-1h1v-1h2v-22h1v-21h5v1h36v-1h9v1h1v-1h1v1h5v1h1v2h1v1h1v1h7v-1h10v1h68v-1h37v-1h4v2h6" stroke="#e07020"/>
<path d="M20 573h28v-1h1v-1h3v-1h39v3h1v3h3v-1h3v-30h1v2h6v-1h15v1h6v-4h6v-2h31v1h10v1h1v2h1v1h1v2h5v-1h14v1h7" stroke="#808000"/>
<path d="M206 548h2v-1h3v-1h2v-1h2v-1h18v-1h13v-1h25v1h4v-1h15v-1h6v1h11v-2h34v1h8v-1h8v2h12v-1h6v1h12v1h16v-2h2v1h9v-1h10v1h2v1h18v1h2v-1h3v10h1v9h1v10h3v1h4v1h3v1h1v1h1v-1h1v1h1v1h6v-1h20v1h9v1h13v1h1v1h13v1h4v-1h3v-21h1v-21h18v-1h9v1h4v-2h5v1h2v1h6v-1h10v1h3v1h1v1h7v1h6v1h4v-1h2v1h41v1h15v-1h47v-1h10v-1h2" stroke="#808000"/>
<path d="M20 573h19v-1h9v-1h3v-1h17v1h11v1h10v-1h2v3h1v3h6v-30h3v1h18v-2h7v-3h26v1h20v-1h1v2h1v1h1v1h1v2h15v-1h11" stroke="#d060a0"/>
<path d="M206 548h2v-1h2v-1h3v-1h7v-1h6v-1h15v-1h20v-1h11v1h5v1h4v-1h4v1h7v-1h12v-1h20v-1h21v1h26v-1h5v1h9v1h21v2h28v1h4v-1h11v10h1v9h1v9h1v1h3v1h4v1h2v2h2v1h1v1h2v1h1v-1h4v-1h3v-1h10v-1h4v1h13v1h6v-1h2v1h8v1h6v1h11v-21h1v-20h4v1h11v-1h16v-1h5v1h10v1h4v-1h5v1h1v1h2v1h1v1h1v1h17v-1h10v1h35v-1h11v1h20v1h9v-2h18v1h12v-1" stroke="#d060a0"/>
<path d="M20 573h18v-1h9v1h1v-1h2v-1h16v-1h9v1h11v1h5v3h1v3h6v-29h4v-1h11v-1h13v-3h8v-1h30v-1h9v1h1v2h1v1h1v2h19v1h7" stroke="#c06000"/>
<path d="M206 549h2v-1h3v-1h2v-1h1v-1h1v-1h5v1h13v-2h11v-1h12v2h12v-2h5v2h8v-1h8v1h10v-1h12v-1h10v1h70v1h15v1h10v-1h4v1h5v-1h10v1h14v9h1v10h1v9h4v1h3v1h2v1h2v1h2v1h1v1h4v-1h3v-1h6v1h6v-1h8v-1h4v1h5v1h6v-1h4v2h6v1h2v-1h3v1h7v1h2v-1h3v-20h1v-19h6v1h4v-1h6v-1h7v1h14v-1h14v-1h1v1h3v-1h2v1h2v1h1v1h10v1h7v1h21v1h6v-1h1v1h30v1h39v-1h11v1h7" stroke="#c06000"/>
<path d="M20 572h14v1h14v-1h1v-1h10v-1h3v1h8v1h6v-1h13v1h2v2h1v3h6v-30h5v-2h12v1h11v-3h8v-1h9v1h4v1h11v2h10v-1h5v1h1v2h1v1h1v1h21v-1h5" stroke="#b08040"/>
<path d="M206 549h1v-1h2v-1h6v-1h3v1h5v-1h4v-1h6v1h2v-1h22v-1h7v-1h17v1h5v-1h41v-1h14v2h20v-1h8v-1h18v-1h6v1h22v2h6v-1h2v1h3v-1h5v1h8v1h7v-1h3v10h1v9h1v10h4v1h3v1h3v1h2v1h1v1h2v1h4v-1h5v2h1v-1h7v-1h15v1h2v-1h4v1h2v-2h8v1h4v1h15v-1h1v-18h1v-19h52v1h3v1h3v1h2v1h11v1h4v1h4v1h4v-1h10v2h12v-1h9v-1h35v1h5v1h12v-1h7v-1h17v-1h2" stroke="#b08040"/>
<path d="M20 573h10v1h9v-1h9v-1h3v-1h27v1h12v1h1v2h1v3h6v-30h4v-1h15v1h9v-4h13v1h11v1h6v-2h12v1h3v-1h2v2h1v1h1v2h1v1h1v1h12v-2h4v1h9" stroke="#a0a000"/>
<path d="M206 550h1v-2h2v-1h3v-1h2v-1h23v-1h1v1h13v-1h28v-1h22v1h24v2h6v-2h11v-1h10v1h2v-1h25v1h6v-1h8v1h20v1h6v-1h7v1h23v9h1v10h1v9h2v1h1v1h3v1h4v1h1v1h2v1h2v1h1v-1h8v-1h5v-1h1v1h13v1h10v-1h3v1h10v1h5v1h10v-1h2v-18h1v-18h8v-1h23v-1h9v1h7v-1h5v1h3v1h1v1h2v1h2v1h9v-1h5v1h5v1h2v-1h6v1h4v1h12v-1h28v-1h12v1h6v-1h7v1h6v-1h11v1h19" stroke="#a0a000"/>
<path d="M20 572h27v1h1v-1h1v-1h5v-1h5v1h24v1h6v1h1v-1h1v3h1v3h2v-2h4v-30h26v1h2v-3h16v1h11v-1h11v1h10v1h1v1h1v2h1v-1h6v1h13v1h6" stroke="#50d050"/>
<path d="M206 551h1v-1h2v-1h2v-1h3v-1h9v-1h9v-1h4v-1h17v2h8v-1h3v1h1v-1h15v-1h1v-1h18v1h20v-2h20v1h7v-1h8v1h25v2h12v-1h9v1h17v-1h10v1h16v1h6v10h1v9h1v9h1v1h4v1h4v1h2v1h2v1h2v1h4v1h3v-1h15v-1h13v1h5v1h4v-1h3v1h7v1h2v-1h6v1h3v-1h3v-18h1v-18h13v-1h30v1h9v-1h2v1h4v1h2v1h8v1h4v-1h5v1h3v1h17v-1h6v1h6v1h21v-1h16v-1h17v1h20v1h9" stroke="#50d050"/>
<path d="M20 573h10v1h8v-1h11v-2h13v1h8v1h14v1h3v-1h4v3h1v3h6v-30h2v-1h26v-4h11v1h15v1h15v-2h4v1h2v2h1v1h1v1h1v2h1v-1h17v1h4v-1h4" stroke="#6080ff"/>
<path d="M206 550h1v-1h3v-1h4v-1h9v-1h12v-1h50v-1h11v1h14v-1h4v1h6v-1h10v1h19v-1h16v1h13v-1h16v2h8v-1h6v1h12v1h1v1h16v-1h5v-1h7v9h1v10h1v9h3v1h3v1h4v1h2v1h1v1h1v1h12v-1h8v-1h1v1h9v1h9v1h2v-1h3v1h4v-3h1v1h3v1h1v1h15v-1h1v-17h1v-18h6v-1h5v1h15v-1h6v-1h13v-1h7v1h5v1h2v1h12v2h7v1h3v2h41v-1h48v1h16v-1h6" stroke="#6080ff"/>
<path d="M20 573h5v1h23v-1h4v-1h10v1h1v-1h10v-1h18v3h1v2h4v-1h2v-30h9v2h9v-1h5v1h5v-3h12v-1h12v-1h4v1h5v1h8v1h6v1h1v1h1v2h1v1h9v-2h6v1h11" stroke="#40f000"/>
<path d="M206 549h4v-1h3v-1h1v-1h9v-1h4v2h9v-1h4v1h14v-1h34v-1h22v-1h21v-1h10v1h10v1h8v-1h4v1h6v-1h8v1h19v1h9v-1h12v1h24v-1h1v1h7v9h1v9h1v9h1v1h3v1h3v1h3v1h2v1h2v1h7v-1h8v-1h6v1h19v-1h7v1h3v1h13v1h5v-1h1v-17h1v-18h5v1h16v-1h5v-1h10v1h6v1h5v-1h7v1h4v2h2v1h9v1h3v-1h5v1h19v1h8v-1h16v1h22v1h6v-1h21v-1h15v-1h7v1h1" stroke="#40f000"/>
<path d="M20 575h9v-1h5v-1h9v1h5v-1h2v-1h3v1h10v-1h6v1h4v-1h6v1h5v-1h5v1h2v3h1v3h6v-30h3v1h4v-1h21v-3h6v1h12v-1h23v-1h6v1h1v2h1v1h1v1h2v1h5v2h12v-1h7" stroke="#f0a0a0"/>
<path d="M206 552h2v-2h2v-1h3v-1h2v-1h4v-1h6v1h31v-1h27v-1h1v1h24v1h11v-1h12v1h10v-2h28v-1h6v2h13v-1h16v-1h1v1h18v1h15v1h11v9h1v9h1v9h1v1h4v1h3v1h3v1h1v1h2v1h2v1h1v-1h23v-1h10v1h10v1h14v-1h9v-17h1v-18h38v-1h8v1h4v1h3v1h4v1h2v1h3v-1h5v1h10v1h21v-1h21v1h38v1h14v-1h21" stroke="#f0a0a0"/>
<path d="M20 574h6v1h22v-1h3v-2h12v1h14v1h14v3h1v3h1v-2h5v-29h19v-1h9v-3h4v-1h10v1h24v2h8v-1h1v1h1v1h1v2h1v1h8v1h18v-1" stroke="#d0a060"/>
<path d="M206 551h3v-1h2v-1h3v-1h6v-2h12v1h15v-1h27v-1h3v1h7v-1h5v1h47v-1h15v1h4v-1h9v2h20v-1h13v1h7v1h5v1h11v-2h11v-1h12v1h6v10h1v9h1v9h3v1h2v1h3v1h3v1h2v1h1v1h12v-1h9v-1h9v-1h3v1h13v1h1v-1h6v1h6v1h7v-1h1v1h1v-1h1v-17h1v-18h8v1h6v1h4v-1h20v-1h18v1h2v1h2v1h4v1h8v1h3v1h8v1h13v1h8v-1h10v-1h4v1h13v-1h13v1h18v-2h12v1h16v-1h2" stroke="#d0a060"/>
<path d="M20 574h29v-1h14v1h28v3h1v2h6v-29h1v-1h7v1h11v-1h7v-1h2v-3h5v1h31v1h7v-1h4v2h1v1h1v1h1v2h1v-1h24v-1h1" stroke="#ffa0b0"/>
<path d="M206 550h3v-1h3v-1h3v-1h3v1h10v-1h9v1h18v-1h20v-2h49v1h8v-1h4v1h11v1h11v1h17v-1h20v1h1v-1h25v1h8v1h8v-1h12v9h1v9h1v9h1v1h6v1h3v1h2v1h2v1h10v-1h2v1h4v-1h4v-1h8v1h4v1h10v1h8v1h5v1h14v-18h1v-17h3v-1h4v-1h7v1h9v-2h11v1h12v-1h6v1h1v1h3v1h2v1h2v1h6v1h13v1h10v-1h52v-1h9v2h11v1h12v-1h12v-1h7" stroke="#ffa0b0"/>
<path d="M20 575h10v-1h19v-1h3v-1h1v1h4v1h6v1h6v-1h12v-1h2v1h8v2h1v3h6v-30h12v-1h16v-3h7v1h38v-2h2v2h1v1h1v1h1v2h6v1h20" stroke="#00c000"/>
<path d="M206 551h2v-1h3v-1h12v-1h2v-1h12v-1h4v1h19v1h5v-1h6v-1h11v1h22v-1h12v-1h29v-1h11v2h9v-1h6v1h6v-1h5v1h17v1h9v-1h5v1h4v-1h7v2h7v-1h10v1h8v9h1v9h1v9h4v1h5v1h2v1h2v1h2v1h10v-1h8v-1h13v1h4v1h8v1h1v1h4v1h2v-1h7v1h10v-1h1v-17h1v-18h9v-1h12v-1h7v-1h7v1h5v1h6v1h11v1h2v1h10v1h8v2h8v-1h8v-1h24v1h10v1h12v1h6v-1h8v-1h10v2h11v-2h4v1h12v-1h2" stroke="#00c000"/>
<path d="M20 575h9v-1h14v1h5v-1h2v-1h2v-1h13v1h5v1h21v3h1v2h4v-1h2v-29h8v1h13v-1h7v-3h32v2h10v1h5v-1h1v1h1v2h1v1h11v1h15" stroke="#b08040"/>
<path d="M206 554h1v-1h3v-1h3v-1h1v-1h12v-1h8v1h6v-1h15v-1h12v1h2v-1h8v-1h4v-1h24v1h30v-2h12v1h16v1h25v1h9v-1h11v1h10v-1h11v1h14v1h5v1h1v9h1v7h1v9h2v1h3v1h4v1h2v1h4v1h9v-1h43v1h13v-1h3v-17h1v-18h3v2h11v1h12v-1h11v1h12v-1h5v1h3v1h2v1h2v-1h5v1h7v1h4v1h11v1h12v-1h15v1h9v-1h22v1h8v-1h20v1h18v1" stroke="#b08040"/>
<path d="M20 575h9v-2h8v2h12v-1h7v-1h6v1h14v-1h7v2h8v2h1v3h6v-30h12v-1h5v1h7v-1h4v-3h6v-1h6v1h5v1h4v1h24v-2h2v2h1v1h1v1h1v1h7v2h10v-1h9" stroke="#ff3030"/>
<path d="M206 552h2v1h3v-1h3v-2h5v-1h15v1h12v-1h14v-1h18v1h19v-1h8v1h11v-1h11v-1h39v1h11v-1h28v2h7v-1h11v1h9v1h2v-2h5v-1h2v1h5v1h3v9h1v9h1v9h4v2h4v1h3v1h2v1h2v1h10v-1h10v-1h10v1h6v1h16v1h2v-1h14v-17h1v-18h9v2h19v-1h9v-1h19v1h2v1h2v1h5v1h6v1h1v-1h5v1h3v1h44v-1h19v-1h12v-1h5v1h32" stroke="#ff3030"/>
<path d="M20 574h19v1h10v-1h8v2h12v-2h17v1h5v2h1v3h6v-29h3v-1h11v-1h8v1h6v-2h5v-1h7v1h9v-1h6v1h14v1h6v1h1v1h1v3h1v1h15v-1h11" stroke="#c0a0ff"/>
<path d="M206 554h1v1h3v-1h3v-1h3v-2h6v-1h7v-1h18v1h5v-1h7v-1h4v1h5v-1h5v1h11v-1h11v1h11v-1h38v1h4v-2h4v2h9v-1h10v1h9v-1h7v1h10v-2h18v2h4v1h10v-2h4v1h4v-1h12v9h1v9h1v9h2v1h3v1h3v1h3v1h1v2h2v1h14v-1h3v1h1v-1h17v2h4v-1h1v1h7v1h9v-2h13v-17h1v-18h12v-1h5v2h11v1h19v-1h6v1h1v1h3v1h2v1h14v1h6v1h2v-1h11v-1h5v1h51v-1h19v-1h9v1h16" stroke="#c0a0ff"/>
<path d="M20 575h10v1h5v-1h4v1h5v-2h5v-1h7v2h6v-1h20v1h2v1h7v2h1v3h6v-29h13v-1h15v-2h8v-1h20v-1h9v1h4v-1h6v1h1v1h1v1h1v2h25v1h1" stroke="#a0a000"/>
<path d="M206 553h2v-1h4v-1h2v1h7v-1h3v-1h4v-1h28v1h16v-1h14v1h8v-1h12v-1h15v-1h4v-1h5v2h6v1h12v-1h11v1h2v1h9v-1h25v1h12v-1h18v1h24v9h1v8h1v9h1v1h5v1h4v1h2v1h1v1h1v1h16v-1h10v-1h5v1h3v-1h3v1h4v1h5v1h11v-1h10v1h2v-18h1v-17h3v-1h10v2h4v-1h10v-1h9v1h10v1h6v1h1v-1h1v1h3v1h2v1h5v-1h2v1h8v1h5v1h3v-1h17v-1h5v2h9v-1h15v-1h37v1h16v-1h11" stroke="#a0a000"/>
<path d="M20 577h6v-1h12v1h7v-1h5v-1h1v-1h10v1h7v1h5v-2h7v2h1v1h10v2h1v3h4v-1h2v-29h24v-1h4v-2h6v-1h5v-1h13v2h19v-1h4v1h1v2h1v1h1v1h17v-1h9" stroke="#a05030"/>
<path d="M206 552h3v-1h3v-1h8v-1h4v2h17v-2h6v-1h8v-1h11v1h5v-1h5v2h5v1h9v-1h20v-1h9v1h83v2h10v1h5v-1h16v1h2v-1h14v9h1v9h1v9h7v1h4v1h2v1h2v1h1v-1h15v-1h4v1h18v1h6v1h20v1h4v-17h1v-17h4v-2h5v1h22v1h11v-2h10v1h5v1h2v1h2v1h7v-1h4v1h2v-1h3v1h7v1h6v-1h12v1h29v1h11v-2h6v2h9v-1h12v-1h14v2h8v-1h1" stroke="#a05030"/>
<path d="M20 576h29v-1h3v-1h13v1h12v-1h11v1h3v3h1v2h6v-29h3v1h7v-1h17v-1h1v-2h19v1h7v-1h7v1h10v1h4v1h1v2h1v1h1v1h17v-1h9" stroke="#c08060"/>
<path d="M206 554h3v-1h1v1h2v-1h3v-1h11v-1h26v-1h8v1h10v-1h30v-1h18v-1h4v1h21v1h8v-1h4v1h4v-1h10v1h11v-1h14v1h7v-1h10v1h1v1h18v-1h19v9h1v9h1v9h1v1h4v1h6v1h2v1h17v-1h3v-1h14v2h7v1h8v1h15v-1h6v-17h1v-17h1v-1h14v1h27v1h12v1h5v1h3v1h12v1h4v1h1v1h18v1h12v-2h25v-1h23v-1h11v-1h9v1h15" stroke="#c08060"/>
<path d="M20 575h6v-1h17v2h6v-1h14v1h3v-1h6v1h9v-1h10v2h1v3h6v-28h4v-1h4v1h8v1h12v-2h3v-1h10v-1h34v1h2v2h1v1h8v-1h12v1h6" stroke="#d04020"/>
<path d="M206 553h4v-1h3v-1h5v-1h4v1h11v-1h10v1h11v-1h8v-1h11v1h20v-1h4v1h6v-1h11v1h7v-1h28v-1h8v2h10v-1h11v1h15v1h7v1h10v-1h24v1h12v-1h3v9h1v9h1v9h3v1h4v1h3v1h3v1h8v1h5v-1h7v-1h8v1h14v1h3v1h5v1h8v-1h4v1h8v-19h1v-17h3v-1h5v1h13v1h14v-1h16v1h3v1h4v1h7v1h10v-1h3v1h15v1h22v-1h8v1h11v-1h26v1h26v-1h6" stroke="#d04020"/>
<path d="M20 577h12v-1h15v-1h4v-1h11v1h5v-1h8v1h15v1h1v2h1v2h4v1h2v-29h2v-1h26v-2h8v1h9v1h4v1h13v-1h13v-1h1v2h1v1h1v1h4v1h5v-1h14v1h3" stroke="#704020"/>
<path d="M206 555h3v-1h3v-1h1v-1h7v-1h28v1h1v-1h13v-1h9v2h6v-1h1v-1h7v-1h7v1h4v1h23v2h8v-1h11v-3h6v1h21v1h17v1h4v-1h20v1h13v1h4v-1h2v1h4v-2h10v1h7v1h3v8h1v9h1v8h1v1h7v1h4v1h2v1h14v-1h12v1h12v1h15v1h15v-1h1v-16h1v-17h3v1h5v-1h44v1h4v1h2v1h18v1h2v1h8v-1h7v-1h5v1h22v1h4v-1h28v2h40" stroke="#704020"/>
<path d="M20 576h35v-1h12v1h17v1h7v2h1v2h3v-1h3v-29h9v2h6v-1h13v-2h5v-1h14v1h28v2h1v2h1v1h1v1h10v1h16" stroke="#e06030"/>
<path d="M206 557h1v-1h3v-1h8v-1h17v-1h7v-1h2v-1h9v1h20v-1h4v1h11v-1h12v1h4v1h11v-1h6v-1h18v-1h9v1h24v1h7v1h3v-1h44v-1h2v1h7v-1h7v1h7v8h1v9h1v9h5v1h1v1h3v1h3v1h3v1h12v-1h4v-1h1v-1h14v1h9v1h1v-1h1v1h12v1h14v-17h1v-15h7v-2h18v1h10v-2h11v1h12v1h2v2h7v-1h5v1h2v1h4v1h28v3h14v-1h4v-1h9v-1h8v1h10v1h13v1h12v-1h13v-1h3" stroke="#e06030"/>
<path d="M20 575h5v1h23v-1h5v-1h9v1h3v-1h3v1h8v1h4v1h11v2h1v2h6v-28h2v-1h13v1h13v-2h5v-1h17v1h9v-2h6v1h10v3h1v1h1v1h1v1h9v1h17" stroke="#9040a0"/>
<path d="M206 557h3v-1h3v-1h2v-1h1v-1h3v-1h16v-1h10v1h6v-1h8v1h5v-1h19v-1h3v1h17v1h9v-2h4v1h1v-1h8v2h9v-1h8v1h10v-1h16v-1h2v1h10v-1h5v1h16v1h11v-1h3v1h29v1h6v8h1v8h1v9h3v2h5v1h1v-1h3v1h1v-1h2v1h15v-1h5v1h10v2h9v1h6v1h9v1h5v-1h7v-1h2v-16h1v-19h11v2h4v-1h12v1h25v1h6v1h2v1h18v1h4v-2h6v2h4v2h17v-2h28v1h16v-2h8v1h22v1h9" stroke="#9040a0"/>
<path d="M20 576h29v-1h9v1h12v1h11v1h10v2h1v2h6v-29h12v-1h10v1h6v-2h42v1h5v1h1v1h1v1h1v1h2v1h16v-1h8" stroke="#ff6000"/>
<path d="M206 556h2v-1h3v-1h20v-1h8v1h6v-1h10v1h15v-1h10v-1h4v1h13v-1h16v-2h17v1h13v1h2v1h7v-1h25v1h21v-1h5v1h12v1h34v8h1v9h1v9h4v1h6v1h3v1h20v-1h4v1h10v-1h1v1h9v1h8v1h18v-17h1v-17h39v-1h9v1h8v1h1v1h2v1h5v1h6v1h4v-1h11v1h4v1h9v1h8v-1h8v-1h22v-1h12v1h6v-1h8v1h10v-2h7v1h13" stroke="#ff6000"/>
<path d="M20 576h12v1h5v1h8v-1h4v-1h42v2h1v2h2v1h4v-29h5v1h8v-1h8v-1h6v2h1v-1h42v-1h4v-1h1v1h1v1h1v1h1v1h12v2h14" stroke="#c000c0"/>
<path d="M206 557h1v-1h3v-1h3v-1h6v1h5v-1h9v-1h3v-1h12v-1h1v1h8v1h12v-1h32v1h4v-1h7v1h9v-1h24v2h8v-1h12v-1h11v1h10v1h4v-1h21v-2h7v1h7v1h22v2h2v9h1v8h1v8h1v1h3v1h5v1h3v1h3v1h9v-1h3v-1h5v-1h13v1h9v1h7v1h4v-1h7v1h11v-16h1v-17h10v-1h9v-1h12v1h13v1h13v1h2v1h3v1h10v1h4v-2h1v1h4v1h22v1h5v-1h10v-1h29v1h45v1" stroke="#c000c0"/>
<path d="M20 576h29v-1h1v1h13v1h7v1h17v1h5v2h6v-28h2v2h16v-1h8v1h2v-2h6v1h11v-2h19v1h5v1h6v1h2v2h1v1h11v-1h6v1h9" stroke="#a000a0"/>
<path d="M206 558h1v-1h2v-1h4v-1h1v1h6v-1h19v-1h8v-1h9v1h12v-1h10v1h17v-2h7v1h16v-2h16v2h12v1h12v1h16v-2h28v-1h6v1h9v1h11v1h7v-1h5v1h1v-1h8v9h1v8h1v8h1v1h4v1h4v1h3v1h4v1h10v-1h25v1h8v-1h4v2h8v1h11v-1h1v-16h1v-16h2v1h6v-2h39v1h4v-1h1v1h5v1h2v1h1v2h17v1h18v1h20v-1h21v-1h43v2h11v-1h2" stroke="#a000a0"/>
<path d="M20 576h27v1h30v1h2v-1h2v1h10v2h1v1h6v-28h1v2h6v-1h16v1h5v-1h1v-2h10v1h8v-1h15v1h13v2h1v1h1v1h1v1h2v1h11v-1h12v1h1" stroke="#8060c0"/>
<path d="M206 559h1v-1h4v-1h4v-1h1v-1h4v1h9v1h6v-1h1v-1h9v-1h8v1h7v-1h16v-2h8v1h9v1h5v1h9v-1h8v1h5v-1h6v-1h12v1h7v-1h3v1h4v1h4v-1h15v1h9v-1h9v1h3v-1h26v1h11v-1h5v1h15v8h1v8h1v9h4v1h5v1h2v1h1v1h4v1h12v-1h6v-1h11v1h10v1h1v-1h1v1h3v-1h1v1h20v-1h2v-16h1v-16h9v1h5v1h20v-1h7v1h1v-2h1v1h10v1h4v1h2v1h2v1h11v-1h2v1h24v1h7v-1h29v1h5v1h10v-1h18v-1h4v2h7v-1h11v1h3" stroke="#8060c0"/>
<path d="M20 578h20v1h7v-2h17v1h22v1h5v1h1v2h6v-28h10v2h18v-1h18v-1h20v-1h9v1h1v1h1v1h1v1h26" stroke="#ff8060"/>
<path d="M206 557h2v-1h4v-1h10v1h6v-1h14v-1h2v1h6v-1h11v1h18v-1h8v1h36v-1h34v1h10v-1h17v1h5v-1h14v-1h1v1h5v1h10v-1h4v1h18v2h2v1h2v-1h4v8h1v8h1v8h1v2h5v1h4v1h5v1h5v-2h12v1h10v-1h6v1h2v-1h2v1h6v-1h1v1h23v-1h1v-15h1v-16h5v1h34v-1h6v1h10v1h3v1h2v1h6v1h1v1h10v-1h2v1h19v-1h26v1h9v-1h7v1h10v-1h19v1h20v1h3" stroke="#ff8060"/>
<path d="M20 577h18v-1h9v1h1v-1h13v2h11v-1h3v1h3v-1h2v1h10v1h1v1h1v2h5v-1h1v-28h14v2h10v-2h27v-1h12v1h11v-1h1v2h1v1h1v1h1v1h16v1h10v1" stroke="#90a000"/>
<path d="M206 559h2v-1h4v-1h3v1h28v-2h16v-1h10v-1h6v1h3v-1h4v2h5v-1h18v-1h33v-1h7v2h35v1h34v1h27v1h5v-1h3v8h1v8h1v9h4v1h1v-1h3v1h4v1h1v-1h1v1h12v1h2v-1h4v-1h6v1h7v-1h3v1h4v-1h7v1h10v1h2v-1h1v1h9v-1h1v-1h1v-15h1v-16h17v1h21v1h7v1h11v1h2v1h2v1h15v1h7v1h21v1h16v-2h17v-1h20v-1h20v1h12v1h4v-1" stroke="#90a000"/>
<path d="M20 577h8v1h20v-1h19v1h1v1h14v1h9v2h1v1h1v-1h4v1h1v-28h3v1h7v-2h9v-1h8v1h11v1h4v-1h23v1h6v-1h4v1h1v1h1v2h1v1h5v1h11v-1h8v1h2" stroke="#ff9040"/>
<path d="M206 560h1v-1h3v-1h4v-1h5v1h16v-1h19v1h8v-1h25v1h5v-1h11v-1h19v-1h6v1h4v-1h6v1h14v1h1v-1h6v-1h28v1h8v1h21v-1h8v1h13v1h7v-2h5v8h1v9h1v8h3v1h4v1h4v1h14v1h3v-1h12v1h7v-1h2v1h4v1h8v1h6v-1h9v-1h4v-1h3v-15h1v-16h14v1h30v1h2v1h10v1h2v1h2v1h1v-1h5v1h36v1h5v1h7v1h20v-1h15v-1h24v1h19" stroke="#ff9040"/>
<path d="M20 578h20v1h12v-1h15v1h8v-1h5v1h7v1h4v2h1v1h5v1h1v-28h11v-1h20v-1h6v-1h9v1h12v1h17v1h1v2h1v1h1v2h6v-1h9v1h10v-1h1" stroke="#40c0ff"/>
<path d="M206 560h2v-2h5v-1h4v1h13v-1h13v2h1v-1h4v1h7v-1h23v-1h4v-1h6v1h5v-1h22v-1h22v1h13v-1h3v1h24v-1h12v-1h6v1h9v1h1v1h24v1h10v1h8v-1h2v8h1v8h1v8h1v1h5v-2h1v1h5v1h17v1h9v-1h9v1h2v1h9v1h1v-1h3v1h16v1h2v1h2v-1h1v-15h1v-15h8v-2h4v1h12v-1h21v1h5v1h7v1h2v1h2v1h5v1h9v-1h19v1h28v-1h9v1h19v1h4v-1h38" stroke="#40c0ff"/>
<path d="M20 578h16v-1h9v2h22v1h8v1h11v1h1v-2h4v2h1v1h6v-28h31v1h16v-1h13v1h15v2h1v1h1v1h1v1h5v-1h9v-1h9v1h3" stroke="#000080"/>
<path d="M206 560h2v-1h4v-1h1v2h24v-1h19v-1h11v1h3v-1h13v-1h11v-1h9v-1h17v1h22v1h28v-1h12v2h8v-2h8v1h13v1h16v1h21v1h1v6h1v8h1v8h3v1h4v1h5v1h12v-1h1v1h4v-1h19v1h9v1h2v-1h6v1h1v1h6v-1h10v-1h1v-15h1v-15h10v2h17v-1h15v1h4v1h10v1h2v1h2v1h6v1h42v-1h12v-1h5v1h26v-2h5v-1h4v2h12v-1h4v1h16" stroke="#000080"/>
<path d="M20 579h19v1h27v-1h1v1h11v-1h4v1h9v1h1v1h1v1h5v-25h7v1h11v1h5v1h7v-1h4v-1h31v1h10v1h1v1h1v1h1v1h21v1h5" stroke="#600020"/>
<path d="M206 565h1v-1h4v-1h7v-2h17v-1h4v2h6v-2h13v-1h12v1h28v-1h9v2h3v-1h2v1h12v-1h18v-1h31v1h7v-1h7v1h45v1h17v8h1v7h1v8h6v1h2v1h5v1h15v-1h7v-1h5v1h9v-1h9v1h2v1h5v-1h3v1h13v-1h2v-14h1v-15h4v1h32v-1h6v1h6v1h5v1h4v1h2v1h2v1h2v1h10v-1h1v1h16v1h32v2h10v-1h6v-2h30v2h4v-1h5v-1h15" stroke="#600020"/>
<path d="M20 581h47v-1h4v1h6v1h1v1h7v1h6v1h1v1h1v-1h5v-22h7v-1h4v1h17v-1h5v2h4v-1h17v-1h11v1h8v-1h2v1h2v1h1v1h7v-1h17v2h2" stroke="#e07020"/>
<path d="M206 566h2v-1h5v-1h2v-1h6v2h5v-1h10v-1h13v-1h26v1h6v-1h29v1h1v-1h4v1h8v-1h11v-1h16v1h10v1h16v-1h6v1h34v-1h5v1h9v-1h9v1h4v-1h6v8h1v7h1v7h1v2h3v1h5v1h16v-1h6v-1h8v2h6v-2h4v1h1v-3h2v1h3v1h3v1h4v1h8v1h11v-1h2v-14h1v-14h1v1h7v-1h9v-1h9v1h7v-1h6v1h4v1h7v-1h4v1h3v1h2v2h1v1h9v-1h1v1h7v1h24v2h26v-2h7v1h10v-1h11v1h12v-1h11v-1h5v1h9" stroke="#e07020"/>
<path d="M20 583h42v-1h10v1h2v1h13v1h2v-1h2v1h1v1h6v-20h28v-1h2v1h10v1h5v-1h14v-1h16v1h2v1h12v1h15" stroke="#e08040"/>
<path d="M206 568h5v-1h1v1h3v-1h8v-1h5v-2h11v-1h9v1h7v-1h14v1h5v1h4v-1h11v1h10v-1h12v1h2v-1h9v1h33v-1h13v1h7v-1h22v1h7v1h10v-1h35v7h1v7h1v7h4v1h4v1h7v1h5v-1h2v-1h7v-1h5v-1h3v1h5v1h13v1h3v1h4v1h2v-1h3v1h5v-2h11v-14h1v-14h6v1h15v1h20v-1h5v1h10v1h2v1h1v2h1v1h9v-1h8v1h16v1h26v1h32v-1h6v2h35" stroke="#e08040"/>
<path d="M20 584h7v-1h11v-2h7v1h27v1h9v1h3v1h8v1h6v-18h8v-1h15v1h10v-1h11v2h8v-1h15v-1h5v2h4v1h8v-2h7v1h12v-1h1" stroke="#c0c000"/>
<path d="M206 568h7v-1h4v1h7v-1h2v2h11v-1h12v-1h4v-1h6v-1h12v2h9v-1h45v-1h21v-1h12v1h9v1h21v1h14v-2h7v1h19v1h4v-1h17v7h1v6h1v7h5v1h6v1h4v1h3v-1h6v-1h3v1h4v-1h1v1h8v-1h5v-1h2v1h7v1h1v1h4v1h2v1h6v1h6v-1h6v-2h2v-1h2v-14h1v-13h11v1h41v1h7v1h1v1h9v2h7v-1h1v1h6v1h11v1h12v-1h8v1h12v1h7v1h14v1h8v-1h27v1h10" stroke="#c0c000"/>
<path d="M20 585h7v-2h9v2h8v-1h5v1h12v-1h4v1h6v1h9v1h7v1h3v-1h1v1h3v1h4v-16h6v1h11v-1h7v-1h4v-1h21v-1h5v-1h17v1h5v1h11v1h5v-1h12" stroke="#e07020"/>
<path d="M206 571h6v-1h1v-1h11v-1h3v-1h7v1h23v1h8v-1h16v1h18v-1h22v-1h11v2h5v-1h7v-1h10v2h6v-1h13v-1h7v1h9v1h5v-1h10v-1h8v2h11v1h3v-1h17v-1h6v7h1v6h1v7h4v1h5v1h12v-1h4v-1h3v-1h13v1h11v1h4v1h1v-1h3v1h4v1h3v1h11v-1h2v-1h3v-14h1v-13h14v1h12v-1h17v1h2v-1h2v1h7v2h3v1h2v1h1v1h4v1h8v-1h7v1h3v-1h9v1h4v1h8v1h8v1h9v-1h4v-1h10v1h8v-1h12v2h19v1h6v-3h13" stroke="#e07020"/>
<path d="M20 586h15v-1h8v-1h22v1h2v-1h5v1h3v1h9v1h12v1h2v-13h3v-1h9v1h9v-1h7v-1h7v1h6v1h6v-1h22v1h5v-1h4v2h11v-2h10v-1h5" stroke="#808000"/>
<path d="M206 572h7v-1h5v2h12v1h7v-1h16v-1h11v-1h22v-1h22v1h17v-1h23v1h11v-1h4v1h4v1h18v-2h7v1h12v-1h9v1h7v-1h13v1h16v6h1v6h1v6h5v1h4v1h3v-1h6v-1h2v-1h6v-1h2v1h6v-1h6v1h11v1h4v1h4v1h1v-1h2v1h3v1h2v1h1v-1h14v-1h1v-13h1v-13h6v1h20v-1h13v1h8v1h5v1h5v1h1v1h1v1h1v1h8v1h2v-1h6v-1h2v1h10v1h11v1h13v-1h1v1h4v-1h9v1h8v-1h4v1h9v1h11v1h11v1h4v-1h19" stroke="#808000"/>
<path d="M20 585h48v1h8v1h9v1h13v-12h28v-1h47v-1h29" stroke="#40b0ff"/>
<path d="M206 574h5v-1h16v-1h24v-1h198v6h1v6h1v6h3v1h4v1h10v-1h5v-1h7v-1h21v1h6v1h5v1h3v1h3v1h14v-1h2v-13h1v-13h44v1h10v1h3v1h1v1h2v1h8v1h10v1h9v1h26v1h31v1h48" stroke="#40b0ff"/>
</g>
<rect x="20" y="555" width="183" height="1" fill="#000"/>
<rect x="206" y="555" width="522" height="1" fill="#000"/>
<rect x="20" y="562" width="183" height="1" fill="#000"/>
<rect x="206" y="562" width="522" height="1" fill="#000"/>
<rect x="20" y="577" width="183" height="1" fill="#000"/>
<rect x="206" y="577" width="522" height="1" fill="#000"/>
<g transform="translate(0.5,0.5)" fill="none" stroke-width="1" shape-rendering="crispEdges">
<path d="M790 530h22v7h1v7h1v6h1v1h1v2h1v1h20" stroke="#000"/>
<path d="M846 551h6" stroke="#000"/>
<path d="M857 551h9v-1h31v-1h2v-1h1v-2h1v-1h1v-10h1v-11h5v-1h3v-1h41v8h1v9h9v1h17v1h17v1h7" stroke="#000"/>
<path d="M790 532h22v7h1v7h1v7h1v1h1v1h1v1h6v1h12v-2h2" stroke="#e08040"/>
<path d="M846 554h6v1" stroke="#e08040"/>
<path d="M857 555h3v-1h11v-1h5v1h3v-1h2v1h8v-1h10v-1h1v-1h1v-1h1v-10h1v-10h2v-1h2v-1h3v-1h4v-1h20v-1h12v1h6v9h1v10h6v1h5v-1h25v-1h3v1h8v1h3" stroke="#e08040"/>
<path d="M790 534h5v1h17v7h1v7h1v7h1v1h1v1h1v1h9v1h4v-2h7" stroke="#ff8060"/>
<path d="M846 557h6" stroke="#ff8060"/>
<path d="M857 558h9v-1h22v-1h4v-1h7v-1h1v-1h1v-1h1v-10h1v-10h2v2h1v-1h2v-1h2v-1h1v-1h1v-1h2v-1h1v-1h5v-1h4v1h16v1h9v-1h3v9h1v9h6v-1h7v1h12v1h9v1h3v-2h7v1h6" stroke="#ff8060"/>
<path d="M790 535h15v-1h7v7h1v7h1v7h1v1h1v2h1v1h15v-1h5" stroke="#e06030"/>
<path d="M846 557h4v1h2" stroke="#e06030"/>
<path d="M857 559h1v-1h16v-1h5v1h19v-1h2v-1h1v-1h1v-10h1v-11h2v-1h1v-1h2v-1h2v-1h1v-1h2v-1h14v-1h10v1h10v-1h5v9h1v8h1v1h22v1h11v1h7v1h2v-3h4v1h3" stroke="#e06030"/>
<path d="M790 536h4v-1h14v1h4v8h1v7h1v7h1v1h1v2h1v1h8v-1h12" stroke="#a05030"/>
<path d="M846 560h4v1h2" stroke="#a05030"/>
<path d="M857 561h24v-1h4v2h5v-1h8v-1h2v-1h1v-1h1v-10h1v-10h1v-1h1v-2h2v-1h1v-1h2v-1h1v-1h2v-1h1v-1h1v-1h5v1h31v1h1v8h1v9h3v-1h4v1h4v-1h6v1h1v1h6v-2h8v1h18" stroke="#a05030"/>
<path d="M790 538h11v-1h11v8h1v7h1v7h1v2h1v1h1v1h13v-2h7" stroke="#50d050"/>
<path d="M846 560h3v1h3" stroke="#50d050"/>
<path d="M857 561h2v1h3v-1h4v1h5v-1h6v2h1v-1h4v1h4v-1h4v-1h8v-1h1v-1h1v-1h1v-1h1v-10h1v-10h1v-1h1v-1h2v-1h1v-1h1v-1h3v-1h1v-1h1v-1h6v1h26v-1h6v9h1v8h1v-2h6v2h5v1h34v1h4" stroke="#50d050"/>
<path d="M790 537h8v1h5v-1h9v8h1v7h1v7h1v1h1v2h1v2h3v1h12v-1h5" stroke="#90a000"/>
<path d="M846 563h4v1h2" stroke="#90a000"/>
<path d="M857 565h3v-1h6v-1h12v-1h13v-1h7v-1h2v-1h1v-1h1v-10h1v-10h1v-1h1v-1h2v-1h1v-1h2v-1h1v-1h1v-1h2v-1h1v-1h4v1h11v1h12v-1h7v1h3v8h1v8h13v1h28v1h7v-1h2" stroke="#90a000"/>
<path d="M790 539h7v2h8v-1h7v6h1v8h1v7h1v2h1v2h1v1h20" stroke="#ff3030"/>
<path d="M846 565h2v1h4" stroke="#ff3030"/>
<path d="M857 567h7v1h2v-1h16v-1h14v-1h3v-1h1v-2h1v-1h1v-10h1v-10h2v-1h1v-1h1v-1h1v-1h1v-1h2v-1h1v-1h1v-1h1v-1h1v-1h10v1h27v8h1v8h10v1h2v-3h4v1h11v1h18v1h5" stroke="#ff3030"/>
<path d="M790 540h22v7h1v8h1v7h1v2h1v2h1v2h13v-1h4v1h3" stroke="#8060c0"/>
<path d="M846 568h3v1h3" stroke="#8060c0"/>
<path d="M857 570h6v-1h5v-1h6v2h4v-1h4v-1h5v1h7v-1h3v-1h2v-2h1v-1h1v-1h1v-10h1v-10h1v-1h1v-1h1v-1h1v-1h1v-1h1v-1h1v-1h1v-1h1v-1h1v-1h1v-1h1v-1h7v1h30v7h1v8h1v2h15v-1h9v1h22v-1h3" stroke="#8060c0"/>
<path d="M790 541h6v2h11v-1h5v8h1v8h1v7h1v2h1v2h1v2h20" stroke="#d04020"/>
<path d="M846 570h3v1h3" stroke="#d04020"/>
<path d="M857 572h6v-1h5v-1h22v-1h5v-1h2v-1h2v-1h2v-1h1v-10h1v-10h1v-1h1v-1h1v-1h1v-1h1v-1h1v-1h1v-1h1v-1h1v-1h1v-1h1v-1h1v-1h3v-1h4v1h16v-2h13v-1h1v8h1v8h10v1h18v1h6v1h6v1h10" stroke="#d04020"/>
<path d="M790 542h7v1h8v1h7v8h1v7h1v7h1v2h1v2h1v1h20" stroke="#e07020"/>
<path d="M846 570h1v1h2v1h2v1h1" stroke="#e07020"/>
<path d="M857 575h3v-1h6v1h1v-1h9v-2h10v1h5v-1h5v-1h2v-1h1v-2h1v-1h1v-2h1v-9h1v-10h1v-1h1v-1h1v-2h1v-1h1v-1h1v-1h1v-1h2v-1h1v-1h1v-1h1v-2h8v-1h18v2h8v-1h3v8h1v7h15v1h24v1h10v1h1" stroke="#e07020"/>
<path d="M790 544h18v-1h4v8h1v8h1v8h1v1h1v2h1v2h19v1h1" stroke="#00c000"/>
<path d="M846 572h2v1h3v1h1" stroke="#00c000"/>
<path d="M857 575h14v-1h8v-2h18v-2h2v-2h1v-1h1v-1h1v-10h1v-10h1v-1h1v-1h1v-1h1v-1h1v-1h1v-2h1v-1h1v-1h1v-1h1v-1h1v-1h1v-1h11v1h10v-1h6v2h10v7h1v7h10v-2h12v1h11v2h15v2h2" stroke="#00c000"/>
<path d="M790 545h13v-2h5v-1h4v8h1v8h1v8h1v2h1v2h1v2h8v1h6v1h6" stroke="#600020"/>
<path d="M846 573h2v1h4v-1" stroke="#600020"/>
<path d="M857 574h8v-1h6v1h11v-1h7v1h7v-1h1v-1h2v-1h1v-2h1v-2h1v-9h1v-9h1v-2h1v-1h1v-1h1v-1h1v-1h1v-1h1v-1h1v-1h1v-2h1v-1h1v-1h1v-1h6v-1h15v1h12v1h4v7h1v7h8v-1h9v-1h10v1h8v1h1v1h14" stroke="#600020"/>
<path d="M790 545h20v-2h2v8h1v8h1v8h1v2h1v2h1v2h20" stroke="#ffa0b0"/>
<path d="M846 572h4v1h2" stroke="#ffa0b0"/>
<path d="M857 574h9v-1h27v-1h4v-1h2v-2h1v-1h1v-2h1v-9h1v-9h1v-1h1v-1h1v-2h1v-1h1v-1h1v-1h1v-1h1v-1h1v-1h1v-1h1v-2h1v-1h2v1h29v-1h4v1h2v7h1v7h7v1h11v1h20v1h7v-2h5" stroke="#ffa0b0"/>
<path d="M790 546h4v-1h7v-1h11v8h1v8h1v8h1v1h1v3h1v1h17v1h3" stroke="#a000a0"/>
<path d="M846 573h3v1h3" stroke="#a000a0"/>
<path d="M857 575h7v-1h10v-1h5v1h17v-1h2v-1h1v-1h1v-1h1v-1h1v-9h1v-9h1v-1h1v-1h1v-1h1v-2h1v-1h1v-1h1v-1h1v-1h1v-1h1v-2h1v-1h1v-1h10v-1h18v1h9v6h1v7h20v1h15v1h13v1h2" stroke="#a000a0"/>
<path d="M790 545h7v-1h15v8h1v8h1v8h1v1h1v2h1v1h5v1h15" stroke="#f0a0a0"/>
<path d="M846 572h1v1h4v1h1" stroke="#f0a0a0"/>
<path d="M857 574h4v1h3v-1h8v1h4v-2h17v1h3v-1h2v-1h1v-1h1v-1h1v-1h1v-8h1v-9h1v-2h1v-1h1v-1h1v-1h1v-2h1v-1h1v-1h1v-1h1v-2h1v-1h1v-1h1v-1h37v6h1v7h3v-1h2v1h17v1h3v-1h7v1h2v1h16" stroke="#f0a0a0"/>
<path d="M790 546h4v-1h18v8h1v8h1v7h1v2h1v2h1v1h14v2h6" stroke="#d0a060"/>
<path d="M846 574h1v1h5v-1" stroke="#d0a060"/>
<path d="M857 575h13v1h6v-2h11v1h10v-1h2v-2h1v-1h1v-1h1v-8h1v-8h1v-1h1v-2h1v-1h1v-1h1v-2h1v-1h1v-1h1v-1h1v-1h1v-2h1v-1h1v-1h2v-2h24v1h11v6h1v7h19v1h9v-1h1v1h14v1h1v-1h6" stroke="#d0a060"/>
<path d="M790 545h7v-1h12v1h3v9h1v8h1v8h1v1h1v2h1v1h3v1h6v-1h11v1" stroke="#c0c000"/>
<path d="M846 574h1v1h5" stroke="#c0c000"/>
<path d="M857 576h1v-1h7v-1h12v-1h6v1h11v-2h3v-1h2v-1h2v-1h1v-8h1v-8h1v-1h1v-2h1v-1h1v-1h1v-2h1v-1h2v-1h1v-2h1v-1h1v-1h1v-2h11v1h21v-1h5v7h1v6h13v1h11v1h2v-1h18v1h3v-1h3" stroke="#c0c000"/>
<path d="M790 546h22v8h1v8h1v8h1v2h1v1h1v2h20" stroke="#9040a0"/>
<path d="M846 574h1v1h3v1h2" stroke="#9040a0"/>
<path d="M857 577h6v-1h2v-1h4v-1h4v2h19v1h5v-1h2v-1h1v-1h1v-1h1v-7h1v-8h1v-2h1v-2h1v-1h1v-1h1v-2h1v-1h1v-1h1v-2h1v-3h1v-1h1v-1h1v-2h4v1h16v-1h8v1h8v-1h1v6h1v6h2v2h21v-1h14v-1h3v1h4v1h6" stroke="#9040a0"/>
<path d="M790 546h22v9h1v8h1v8h1v1h1v1h1v1h10v1h10" stroke="#c000c0"/>
<path d="M846 574h4v1h2v-1" stroke="#c000c0"/>
<path d="M857 575h2v-1h6v1h28v-1h3v-1h3v-1h1v-1h1v-1h1v-7h1v-7h1v-1h1v-2h2v-2h1v-1h1v-2h1v-1h1v-1h1v-2h1v-1h1v-2h1v-2h5v1h19v-1h8v1h5v6h1v6h5v1h15v-1h12v1h1v-1h8v1h3v1h6" stroke="#c000c0"/>
<path d="M790 546h8v1h14v9h1v8h1v8h1v1h1v1h1v2h2v-1h18" stroke="#e07020"/>
<path d="M846 574h5v1h1" stroke="#e07020"/>
<path d="M857 576h1v-1h4v1h3v-1h32v-1h2v-1h1v-2h2v-7h1v-7h1v-1h1v-2h1v-1h1v-2h1v-1h1v-2h1v-1h1v-1h1v-2h1v-1h1v-2h1v-1h28v1h9v6h1v6h14v1h6v-1h2v1h2v-1h8v1h1v1h10v-2h1v1h6" stroke="#e07020"/>
<path d="M790 547h12v1h10v8h1v9h1v8h1v1h1v1h1v2h20" stroke="#c06000"/>
<path d="M846 577h5v-1h1v1" stroke="#c06000"/>
<path d="M857 577h4v-1h6v-1h4v1h7v-1h7v-1h12v1h1v-1h1v-1h2v-1h1v-5h1v-7h1v-1h1v-2h1v-1h1v-2h1v-1h1v-2h1v-1h1v-2h1v-1h1v-2h1v-1h1v-2h13v-1h5v2h9v-1h10v6h1v5h4v1h3v-2h1v1h11v1h24v1h6v1h1" stroke="#c06000"/>
<path d="M790 548h7v-1h15v9h1v8h1v9h1v1h1v1h9v1h12v-2" stroke="#a0a000"/>
<path d="M846 574h3v1h2v1h1" stroke="#a0a000"/>
<path d="M857 577h3v-1h2v1h1v-1h3v1h8v-1h1v1h11v1h6v-1h4v-1h2v-1h2v-1h1v-1h1v-6h1v-6h1v-1h1v-2h1v-1h1v-2h1v-2h1v-1h1v-2h1v-1h1v-2h1v-1h1v-1h1v-2h7v-1h7v1h10v3h6v-1h7v5h1v6h1v-1h1v1h8v-1h7v-1h10v1h1v-1h22" stroke="#a0a000"/>
<path d="M790 547h15v-1h7v9h1v8h1v10h1v1h1v1h1v1h8v1h5v-2h7" stroke="#704020"/>
<path d="M846 576h5v1h1" stroke="#704020"/>
<path d="M857 577h1v-1h1v-1h10v2h23v1h3v-1h3v-1h3v-1h1v-6h1v-6h1v-1h1v-2h1v-1h1v-2h1v-2h1v-2h1v-1h1v-2h1v-1h1v-2h1v-1h1v-1h21v-1h9v1h7v6h1v5h3v-1h5v1h6v-1h10v1h2v-1h7v1h17" stroke="#704020"/>
<path d="M790 547h5v1h11v1h5v-1h1v9h1v9h1v8h1v1h1v1h1v1h6v1h14" stroke="#a0a000"/>
<path d="M846 578h6" stroke="#a0a000"/>
<path d="M857 579h4v-1h4v-1h6v1h7v-1h18v-1h2v-1h2v-1h1v-1h1v-5h1v-5h1v-2h1v-2h1v-1h1v-2h1v-1h1v-2h1v-1h1v-2h1v-2h1v-1h1v-2h1v-1h2v-1h8v1h11v1h10v-1h6v6h1v5h3v1h4v1h6v-1h16v-1h12v1h7v-1h2" stroke="#a0a000"/>
<path d="M790 548h22v9h1v8h1v9h1v1h1v1h1v1h6v1h7v1h7" stroke="#c08060"/>
<path d="M846 579h1v-1h5" stroke="#c08060"/>
<path d="M857 579h2v-1h15v-1h21v-1h3v-1h2v-1h1v-1h1v-5h1v-5h1v-2h1v-1h1v-2h1v-1h1v-2h1v-1h1v-2h1v-2h1v-1h1v-2h1v-1h1v-2h29v1h8v5h1v6h8v-1h12v1h7v1h4v-1h1v1h6v-2h9v2h3" stroke="#c08060"/>
<path d="M790 549h22v9h1v9h1v8h1v1h1v1h1v1h5v-1h15" stroke="#40f000"/>
<path d="M846 577h5v2h1" stroke="#40f000"/>
<path d="M857 580h1v-1h5v1h8v-1h25v-1h3v-1h1v-1h2v-5h1v-5h1v-2h1v-1h1v-2h1v-1h1v-3h1v-2h1v-1h1v-2h1v-1h1v-2h1v-2h1v-1h22v-1h12v-1h3v5h1v7h17v1h30v2h3" stroke="#40f000"/>
<path d="M790 550h22v8h1v9h1v9h2v1h1v1h16v1h4" stroke="#40c0ff"/>
<path d="M846 579h1v-1h2v1h3" stroke="#40c0ff"/>
<path d="M857 579h1v-1h10v1h1v-1h3v-1h6v1h12v-1h7v-1h2v-1h2v-1h1v-4h1v-5h1v-1h1v-2h1v-2h1v-1h1v-2h1v-1h1v-2h1v-2h1v-1h1v-1h1v-2h1v-1h4v-1h4v1h5v-1h11v-1h5v1h8v5h1v5h14v1h7v1h10v-1h4v1h14v1h1" stroke="#40c0ff"/>
<path d="M790 549h8v1h9v1h4v1h1v8h1v9h1v9h2v1h1v1h4v-1h4v1h11v1h1" stroke="#ff6000"/>
<path d="M846 581h6v-1" stroke="#ff6000"/>
<path d="M857 580h21v1h11v-1h7v-1h3v-3h1v-1h2v-5h1v-5h2v-2h1v-1h1v-2h1v-2h1v-1h1v-2h1v-1h1v-2h1v-1h1v-2h1v-2h8v1h20v-1h9v5h1v4h10v1h6v-1h4v1h1v-1h5v1h7v1h8v1h9" stroke="#ff6000"/>
<path d="M790 552h20v-1h2v9h1v9h1v8h1v1h2v1h2v1h11v-2h4v1h3" stroke="#000080"/>
<path d="M846 579h4v-2h2" stroke="#000080"/>
<path d="M857 578h2v-1h6v2h12v2h10v-1h6v-1h4v-1h1v-1h2v-1h1v-1h1v-4h1v-4h1v-2h1v-1h1v-2h1v-2h1v-1h1v-2h1v-1h1v-2h1v-2h1v-2h1v-1h1v-2h5v2h4v-1h8v-1h8v1h12v5h1v4h2v1h6v1h38v1h1v-1h3" stroke="#000080"/>
<path d="M790 551h22v9h1v9h1v9h1v1h2v1h14v-1h6" stroke="#6080ff"/>
<path d="M846 579h6v1" stroke="#6080ff"/>
<path d="M857 580h1v2h6v-1h6v1h10v-1h11v-1h6v-1h1v-1h2v-1h1v-1h1v-4h1v-5h1v-2h1v-1h1v-1h1v-2h1v-1h1v-2h1v-1h1v-2h1v-2h1v-1h1v-1h1v-2h14v1h8v-1h15v4h1v5h12v-1h2v1h8v1h8v1h10v1h1v-1h9" stroke="#6080ff"/>
<path d="M790 553h13v1h8v-1h1v9h1v9h1v8h1v1h1v1h1v1h5v-1h6v-1h9" stroke="#b08040"/>
<path d="M846 580h5v1h1" stroke="#b08040"/>
<path d="M857 581h17v1h9v-1h10v-1h1v-1h4v-1h2v-1h1v1h1v-5h1v-4h1v-2h1v-1h1v-2h1v-1h1v-2h1v-1h1v-2h1v-2h1v-1h1v-2h1v-1h1v-2h3v1h10v-1h12v-1h4v1h8v4h1v5h10v1h12v-1h7v1h5v-1h6v1h3v-1h1v1h6" stroke="#b08040"/>
<path d="M790 551h9v1h13v8h1v9h1v9h2v1h17v1h4" stroke="#808000"/>
<path d="M846 580h1v1h4v-1h1" stroke="#808000"/>
<path d="M857 581h20v2h5v-1h4v1h7v-1h3v-1h3v-1h1v-1h2v-4h1v-4h1v-2h1v-1h1v-2h1v-2h1v-2h1v-1h1v-2h1v-1h1v-2h1v-1h1v-2h1v-1h3v-1h6v-1h11v-1h9v1h8v4h1v4h3v1h14v1h26v1h7" stroke="#808000"/>
<path d="M790 552h22v10h1v9h1v8h1v1h1v1h21" stroke="#ff9040"/>
<path d="M846 581h2v1h4" stroke="#ff9040"/>
<path d="M857 582h14v-1h12v2h8v-1h7v-1h2v-1h1v-1h1v-4h1v-4h1v-2h1v-1h1v-3h1v-1h1v-2h1v-2h1v-1h1v-2h1v-1h1v-2h1v-1h1v-2h1v1h6v-1h11v1h17v-1h2v3h1v4h1v2h29v-1h2v1h3v-1h5v1h10" stroke="#ff9040"/>
<path d="M790 554h10v-1h4v1h8v9h1v8h1v9h1v1h1v1h1v1h20" stroke="#d060a0"/>
<path d="M846 582h2v1h4" stroke="#d060a0"/>
<path d="M857 583h4v-1h5v1h21v-1h10v-1h2v-1h2v-1h1v-4h1v-4h1v-2h1v-1h1v-2h1v-1h1v-2h1v-1h1v-2h1v-2h1v-1h1v-2h1v-1h1v-2h2v-1h5v2h4v-1h5v1h12v-1h4v1h5v3h1v4h6v1h19v-1h11v1h14" stroke="#d060a0"/>
<path d="M790 554h11v2h11v8h1v9h1v9h2v1h1v1h2v-1h18" stroke="#c0a0ff"/>
<path d="M846 583h6" stroke="#c0a0ff"/>
<path d="M857 584h20v-1h7v-1h5v1h7v-1h2v-1h2v-1h1v-1h1v-4h1v-4h1v-1h1v-2h1v-1h1v-1h1v-2h1v-1h1v-2h1v-1h1v-2h1v-2h1v-1h1v-2h7v1h20v-2h9v1h1v4h1v3h15v1h13v1h12v1h5v-1h1v1h4" stroke="#c0a0ff"/>
<path d="M790 555h16v2h6v8h1v9h1v9h1v1h2v1h9v-2h7v1h4" stroke="#b08040"/>
<path d="M846 584h6v-1" stroke="#b08040"/>
<path d="M857 583h4v1h8v1h10v-1h12v-2h6v-1h2v-1h3v-4h1v-4h1v-1h1v-2h1v-1h1v-2h1v-1h1v-3h1v-2h1v-1h1v-2h1v-1h1v-2h1v-1h37v4h1v3h1v1h9v1h4v-2h2v1h13v1h3v-1h9v2h7v1h2" stroke="#b08040"/>
<path d="M790 557h5v2h6v1h11v8h1v8h1v8h2v1h2v1h17v-1h2" stroke="#e08040"/>
<path d="M846 585h6v1" stroke="#e08040"/>
<path d="M857 586h7v-1h10v1h9v-1h4v-2h7v2h4v-1h2v-1h1v-1h1v-3h1v-4h1v-2h1v-2h1v-1h1v-2h1v-2h1v-1h1v-2h1v-2h1v-2h1v-1h1v-2h1v-2h5v1h4v-1h11v1h4v-1h13v5h1v4h3v1h17v-1h4v1h17v1h5v1h4" stroke="#e08040"/>
<path d="M790 561h22v8h1v7h1v8h1v-1h1v1h21" stroke="#ff8060"/>
<path d="M846 585h6v1" stroke="#ff8060"/>
<path d="M857 586h4v1h19v-1h1v1h1v-1h3v1h2v-1h9v-1h3v-1h2v-1h1v-3h1v-4h1v-1h1v-2h1v-2h1v-2h1v-2h1v-2h1v-2h2v-2h1v-2h1v-1h1v-2h14v-1h10v-1h13v6h1v5h5v1h10v2h9v-1h7v1h4v-1h15" stroke="#ff8060"/>
<path d="M790 563h6v-1h16v7h1v7h1v7h1v1h2v1h8v1h7v-1h4v2h1" stroke="#e06030"/>
<path d="M846 587h6" stroke="#e06030"/>
<path d="M857 588h13v2h10v-1h8v1h5v-2h6v-1h2v-1h1v-3h1v-3h1v-2h1v-2h1v-2h1v-2h1v-2h1v-2h1v-2h1v-2h1v-2h1v-1h1v-2h1v-3h4v-1h9v1h4v1h10v-1h10v5h1v7h46v1h4" stroke="#e06030"/>
<path d="M790 566h22v7h1v6h1v7h1v1h2v1h14v-2h6" stroke="#a05030"/>
<path d="M846 586h4v1h2" stroke="#a05030"/>
<path d="M857 588h22v1h2v-1h15v-1h3v-1h2v-1h1v-2h1v-3h1v-2h1v-2h1v-2h1v-2h1v-2h1v-2h1v-2h1v-2h1v-2h1v-3h1v-2h1v-2h36v-1h1v8h1v7h23v1h1v-1h16v1h8v-1h2" stroke="#a05030"/>
<path d="M790 569h15v-1h7v6h1v6h1v6h1v1h3v-1h12v1h7v1" stroke="#50d050"/>
<path d="M846 588h6" stroke="#50d050"/>
<path d="M857 588h1v1h11v1h12v-1h2v1h10v-1h1v1h1v-1h6v-1h1v-2h1v-3h1v-2h1v-3h1v-2h1v-2h1v-2h1v-3h1v-2h1v-2h1v-2h1v-3h1v-2h1v-2h32v-1h5v9h1v8h12v1h10v-1h19v1h9" stroke="#50d050"/>
<path d="M790 569h20v3h2v5h1v6h1v5h1v1h6v-1h16" stroke="#90a000"/>
<path d="M846 588h6v1" stroke="#90a000"/>
<path d="M857 590h24v-1h7v1h2v-1h12v-2h1v-2h1v-3h1v-2h1v-2h1v-3h1v-2h1v-3h1v-2h1v-2h1v-4h1v-2h1v-3h1v-2h18v2h9v1h10v8h1v10h12v1h3v-1h14v-2h21" stroke="#90a000"/>
<path d="M790 572h22v5h1v6h1v5h2v1h21" stroke="#40b0ff"/>
<path d="M846 589h6v1" stroke="#40b0ff"/>
<path d="M857 590h10v1h18v-1h15v-1h2v-2h1v-2h1v-2h1v-3h1v-2h1v-3h1v-2h1v-3h1v-2h1v-2h1v-3h1v-2h1v-3h1v-2h37v10h1v10h26v-1h24" stroke="#40b0ff"/>
</g>
<rect x="790" y="555" width="48" height="1" fill="#000"/>
<rect x="846" y="555" width="7" height="1" fill="#000"/>
<rect x="857" y="555" width="147" height="1" fill="#000"/>
<rect x="790" y="562" width="48" height="1" fill="#000"/>
<rect x="846" y="562" width="7" height="1" fill="#000"/>
<rect x="857" y="562" width="147" height="1" fill="#000"/>
<rect x="790" y="577" width="48" height="1" fill="#000"/>
<rect x="846" y="577" width="7" height="1" fill="#000"/>
<rect x="857" y="577" width="147" height="1" fill="#000"/>
</svg></body></html>
